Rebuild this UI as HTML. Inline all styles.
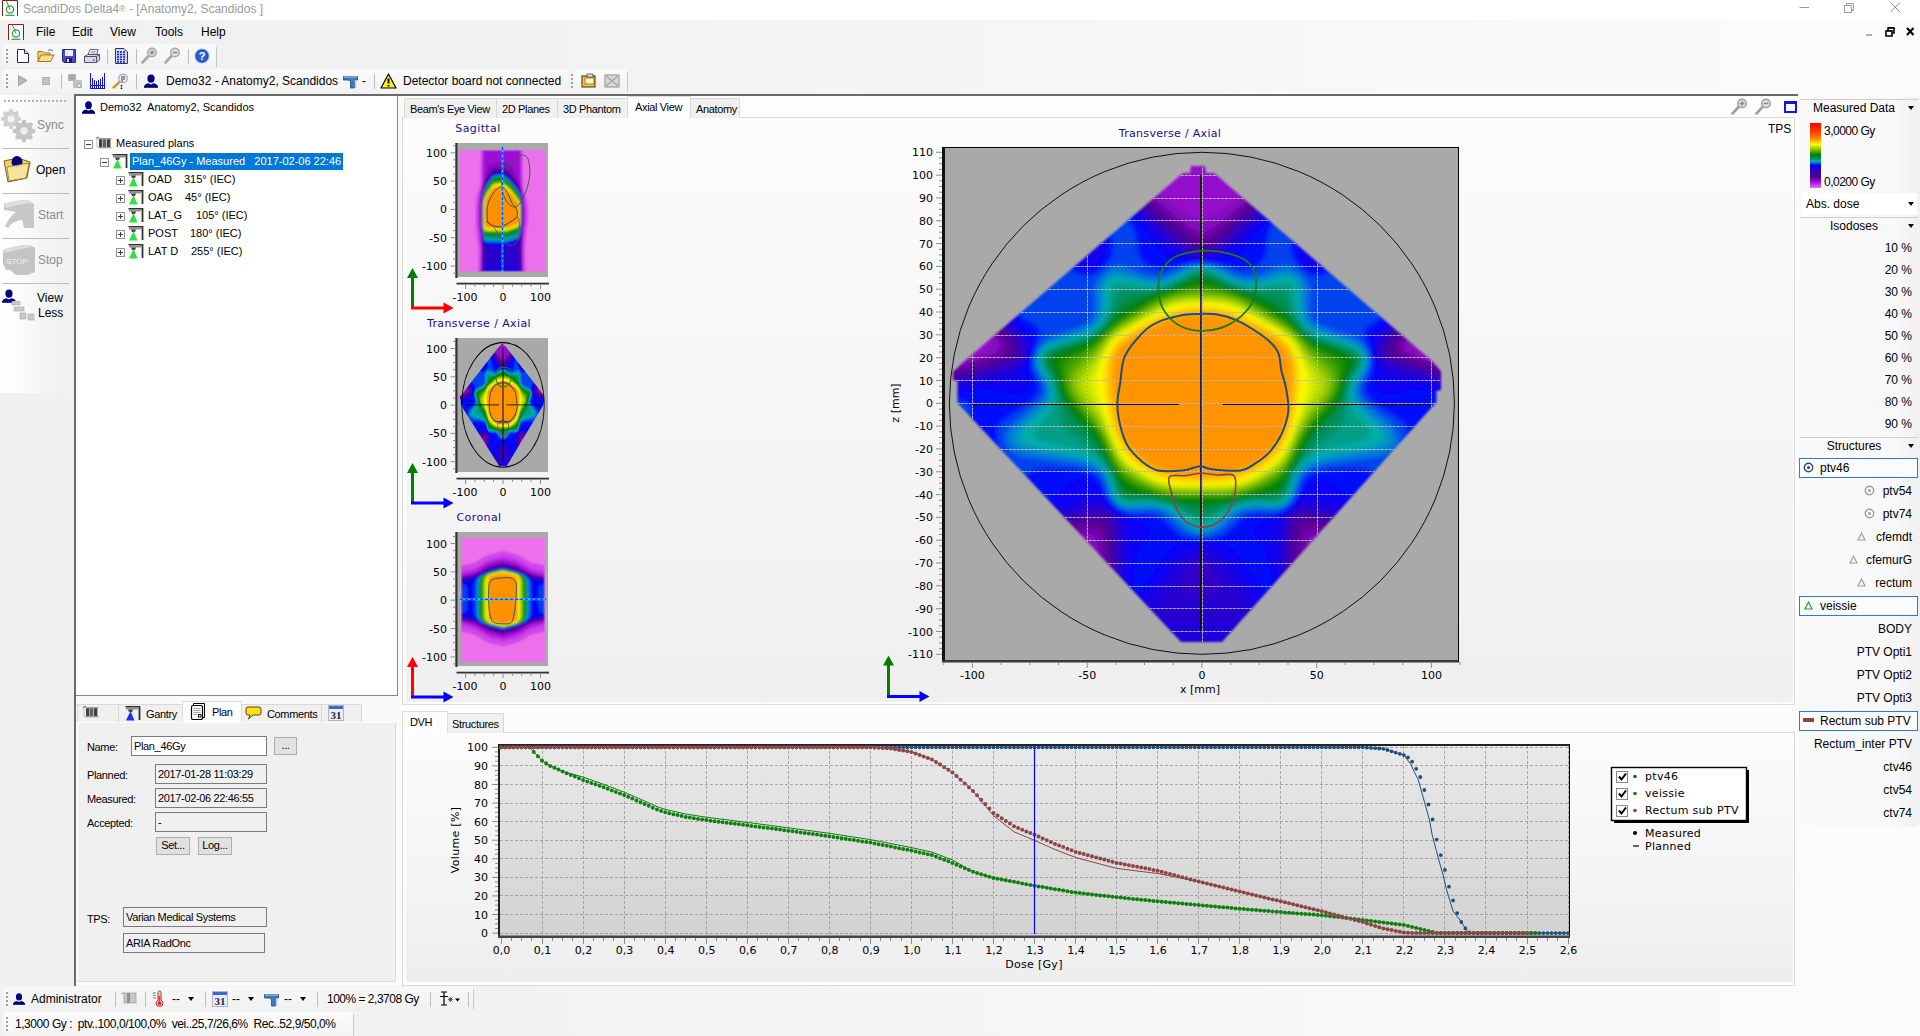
<!DOCTYPE html><html><head><meta charset="utf-8"><title>ScandiDos Delta4</title><style>
*{box-sizing:border-box;margin:0;padding:0}
html,body{width:1920px;height:1036px;overflow:hidden;background:#f0f0f0}
body{position:relative;font-family:"Liberation Sans",sans-serif;font-size:12px;color:#000}
.a{position:absolute}
.t{position:absolute;white-space:nowrap;line-height:14px}
.ui{font-family:"Liberation Sans",sans-serif;font-size:12px}
.ms{font-family:"Liberation Sans",sans-serif;font-size:11px}
.nr{letter-spacing:-0.35px}
.vd{font-family:"DejaVu Sans","Liberation Sans",sans-serif}
.tab{position:absolute;border:1px solid #d9d9d9;background:#f0f0f0;border-bottom:none}
.tab.sel{background:#fff;border-color:#dcdcdc}
.inp{position:absolute;border:1px solid #7a7a7a;background:#fff;font-size:11px;letter-spacing:-0.35px;line-height:14px;padding:2px 0 0 2px;white-space:nowrap}
.inp.ro{background:#f0f0f0}
.btn{position:absolute;border:1px solid #adadad;background:#e1e1e1;font-size:11px;letter-spacing:-0.35px;text-align:center;line-height:14px}
.sep{position:absolute;width:1px;background:#bdbdbd}
.rp{position:absolute;right:0;white-space:nowrap;font-size:12px;line-height:14px;text-align:right}
</style></head><body>
<div class="a" style="left:0;top:0;width:1920px;height:20px;background:#fff"></div>
<svg class="a" style="left:2px;top:0px" width="16" height="16" viewBox="0 0 16 16"><path d="M0.5 16V0.5H15.5V16" fill="#fff" stroke="#8b1a1a" stroke-width="1"/><circle cx="8" cy="9.5" r="3.6" fill="none" stroke="#2e9e3e" stroke-width="1.3"/><path d="M4.5 1L8 9.5" stroke="#2e9e3e" stroke-width="1"/><path d="M3.5 15.3H12.5" stroke="#2e9e3e" stroke-width="1.2"/></svg>
<div class="t" style="left:23px;top:2px;color:#9a9a9a;font-size:12px">ScandiDos Delta4<span style="font-size:9px;position:relative;top:-1px">®</span> - [Anatomy2, Scandidos ]</div>
<svg class="a" style="left:1790px;top:0" width="130" height="20" viewBox="0 0 130 20"><path d="M9.5 7.5H19" stroke="#9a9a9a" stroke-width="1" fill="none"/><path d="M54.5 5.5H61.5V12.5H54.5Z M56.5 5.5V3.5H63.5V10.5H61.5" stroke="#9a9a9a" stroke-width="1" fill="none"/><path d="M100.5 2.5L110 12M110 2.5L100.5 12" stroke="#8a8a8a" stroke-width="1" fill="none"/></svg>
<div class="a" style="left:0;top:20px;width:1920px;height:76px;background:linear-gradient(90deg,#f0f0f0,#f1f1f1 20%,#fcfcfc)"></div>
<svg class="a" style="left:8px;top:24px" width="16" height="16" viewBox="0 0 16 16"><path d="M0.5 16V0.5H15.5V16" fill="#fff" stroke="#8b1a1a" stroke-width="1"/><circle cx="8" cy="9.5" r="3.6" fill="none" stroke="#2e9e3e" stroke-width="1.3"/><path d="M4.5 1L8 9.5" stroke="#2e9e3e" stroke-width="1"/><path d="M3.5 15.3H12.5" stroke="#2e9e3e" stroke-width="1.2"/></svg>
<div class="t ui" style="left:36px;top:25px">File</div>
<div class="t ui" style="left:72px;top:25px">Edit</div>
<div class="t ui" style="left:110px;top:25px">View</div>
<div class="t ui" style="left:155px;top:25px">Tools</div>
<div class="t ui" style="left:201px;top:25px">Help</div>
<svg class="a" style="left:1860px;top:22px" width="60" height="18" viewBox="0 0 60 18"><path d="M6 13H12" stroke="#b0b0b0" stroke-width="2"/><path d="M26 9H32V14H26Z" stroke="#000" stroke-width="1.6" fill="none"/><path d="M28 8V6H34V11H32.5" stroke="#000" stroke-width="1.6" fill="none"/><path d="M26 8.6H32M28 5.6H34" stroke="#000" stroke-width="1.2"/><path d="M47 6L53.5 13M53.5 6L47 13" stroke="#000" stroke-width="2"/></svg>
<div class="a" style="left:3px;top:44px;width:213px;height:24px;background:linear-gradient(#fafafa,#f2f2f2);border-radius:3px"></div>
<div class="a" style="left:216px;top:47px;width:1px;height:20px;background:#c8c8c8"></div>
<div class="a" style="left:6px;top:49px;width:2px;height:2px;background:#a0a0a0"></div><div class="a" style="left:6px;top:53px;width:2px;height:2px;background:#a0a0a0"></div><div class="a" style="left:6px;top:57px;width:2px;height:2px;background:#a0a0a0"></div><div class="a" style="left:6px;top:61px;width:2px;height:2px;background:#a0a0a0"></div>
<svg class="a" style="left:16px;top:48px" width="14" height="16" viewBox="0 0 14 16"><path d="M1.5 1.5H8.5L12.5 5.5V14.5H1.5Z" fill="#fff" stroke="#1c2a6a" stroke-width="1"/><path d="M8.5 1.5V5.5H12.5" fill="#dfe6f5" stroke="#1c2a6a" stroke-width="1"/></svg><svg class="a" style="left:37px;top:48px" width="18" height="15" viewBox="0 0 18 15"><path d="M1 13.5V3.5H6L7.5 5H13V7" fill="#f6d27a" stroke="#a07818" stroke-width="1"/><path d="M1 13.5L4 7H17L13.5 13.5Z" fill="#fbe08c" stroke="#a07818" stroke-width="1"/><path d="M11 2.5Q14 0.5 16 3" fill="none" stroke="#4a6ab0" stroke-width="1"/></svg><svg class="a" style="left:62px;top:49px" width="14" height="14" viewBox="0 0 14 14"><path d="M0.5 0.5H13.5V13.5H2L0.5 12Z" fill="#4a48c8" stroke="#2a2890" stroke-width="1"/><rect x="3" y="1" width="8" height="6" fill="#e8ecf8"/><rect x="4" y="9" width="6" height="4.5" fill="#1a1a50"/><rect x="5" y="10" width="2" height="3" fill="#e0e0f0"/></svg><svg class="a" style="left:84px;top:49px" width="16" height="14" viewBox="0 0 16 14"><path d="M4 6L6 0.5H14L12.5 6" fill="#f4f4f8" stroke="#606080" stroke-width="1"/><path d="M0.5 7.5L3.5 5.5H15.5V11L12.5 13.5H0.5Z" fill="#d8d8e4" stroke="#505070" stroke-width="1"/><path d="M0.5 7.5H12.5V13.5M12.5 7.5L15.5 5.5" fill="none" stroke="#505070" stroke-width="1"/><path d="M7 2.5H12M6.5 4H11.5" stroke="#9090a8" stroke-width="0.8"/><rect x="9" y="10.5" width="1.5" height="1.5" fill="#d02020"/></svg><div class="sep" style="left:107px;top:49px;height:15px"></div><svg class="a" style="left:115px;top:48px" width="13" height="16" viewBox="0 0 13 16"><path d="M0.5 0.5H9L12.5 4V15.5H0.5Z" fill="#cfd8f4" stroke="#303070" stroke-width="1"/><g stroke="#1818c8" stroke-width="1.4"><path d="M2 4H11M2 6.5H11M2 9H11M2 11.5H11M2 14H11" stroke-dasharray="2 1"/></g></svg><div class="sep" style="left:136px;top:49px;height:15px"></div><svg class="a" style="left:141px;top:47px" width="17" height="17" viewBox="0 0 17 17"><path d="M1.5 15.5L8 8.5" stroke="#a8a8a8" stroke-width="2.6" stroke-linecap="round"/><circle cx="11" cy="5.5" r="4.3" fill="#dcdcdc" stroke="#a8a8a8" stroke-width="1.4"/><path d="M8.7 5.5H13.3M11 3.2V7.8" stroke="#8a8a8a" stroke-width="1.4"/></svg><svg class="a" style="left:164px;top:47px" width="17" height="17" viewBox="0 0 17 17"><path d="M1.5 15.5L8 8.5" stroke="#a8a8a8" stroke-width="2.6" stroke-linecap="round"/><circle cx="11" cy="5.5" r="4.3" fill="#dcdcdc" stroke="#a8a8a8" stroke-width="1.4"/><path d="M8.7 5.5H13.3" stroke="#8a8a8a" stroke-width="1.4"/></svg><div class="sep" style="left:188px;top:49px;height:15px"></div><svg class="a" style="left:194px;top:48px" width="16" height="16" viewBox="0 0 16 16"><circle cx="8" cy="8" r="7" fill="#2a5fd0" stroke="#9db8ec" stroke-width="1.2"/><circle cx="8" cy="8" r="6" fill="none" stroke="#1a3fa0" stroke-width="0.8"/><text x="8" y="12" font-family="Liberation Sans" font-weight="bold" font-size="11" text-anchor="middle" fill="#fff">?</text></svg>
<div class="a" style="left:3px;top:69px;width:565px;height:24px;background:linear-gradient(#fafafa,#f2f2f2);border-radius:3px"></div>
<div class="a" style="left:574px;top:69px;width:53px;height:24px;background:linear-gradient(#fafafa,#f2f2f2);border-radius:3px"></div>
<div class="a" style="left:6px;top:74px;width:2px;height:2px;background:#a0a0a0"></div><div class="a" style="left:6px;top:78px;width:2px;height:2px;background:#a0a0a0"></div><div class="a" style="left:6px;top:82px;width:2px;height:2px;background:#a0a0a0"></div><div class="a" style="left:6px;top:86px;width:2px;height:2px;background:#a0a0a0"></div>
<div class="a" style="left:571px;top:74px;width:2px;height:2px;background:#a0a0a0"></div><div class="a" style="left:571px;top:78px;width:2px;height:2px;background:#a0a0a0"></div><div class="a" style="left:571px;top:82px;width:2px;height:2px;background:#a0a0a0"></div><div class="a" style="left:571px;top:86px;width:2px;height:2px;background:#a0a0a0"></div>
<div class="a" style="left:627px;top:72px;width:1px;height:20px;background:#c8c8c8"></div>
<svg class="a" style="left:17px;top:74px" width="12" height="13" viewBox="0 0 12 13"><path d="M1.5 1.5L10 6.5L1.5 11.5Z" fill="#b8b8b8" stroke="#a0a0a0" stroke-width="1"/></svg><div class="a" style="left:42px;top:77px;width:8px;height:8px;background:#c4c4c4;border:1px solid #b0b0b0"></div><div class="sep" style="left:61px;top:74px;height:15px"></div><svg class="a" style="left:67px;top:73px" width="17" height="17" viewBox="0 0 17 17"><rect x="1" y="1" width="8" height="7" fill="#b4b4b4"/><rect x="6" y="7" width="9" height="8" fill="#c4c4c4"/><circle cx="12" cy="12.5" r="2" fill="#e8e8e8" stroke="#a0a0a0"/><path d="M2 3H8M2 5H8" stroke="#9a9a9a"/></svg><svg class="a" style="left:90px;top:73px" width="16" height="17" viewBox="0 0 16 17" shape-rendering="crispEdges"><path d="M0 12.5H15M0 15.5H15" stroke="#1414e0" stroke-width="1"/><g stroke="#1414e0" stroke-width="1.3"><path d="M0.7 0V16M14.3 0V16M2.8 5V16M4.8 7V16M6.8 8V16M8.8 7V16M10.6 6V16M12.5 4V16"/></g></svg><svg class="a" style="left:112px;top:73px" width="17" height="17" viewBox="0 0 17 17"><path d="M1.5 14.5L8 8.5" stroke="#e0902a" stroke-width="2.4" stroke-linecap="round"/><circle cx="11" cy="5.5" r="4.3" fill="#eef4fc" stroke="#a8b0c0" stroke-width="1.4"/><path d="M9.5 4H10.5M11.5 4H12.5M9.5 6H10.5M11.5 6H12.5M9.5 8H10.5M9.5 12V16" stroke="#000" stroke-width="1.4" stroke-dasharray="1.5 1"/></svg><div class="sep" style="left:136px;top:74px;height:15px"></div><svg class="a" style="left:144px;top:74px" width="14" height="14" viewBox="0 0 14 14"><ellipse cx="7" cy="4.6" rx="3.6" ry="4.2" fill="#00007a"/><path d="M0 13.5Q0 10 4.5 9.2L7 10.5L9.5 9.2Q14 10 14 13.5Z" fill="#00007a"/><rect x="0" y="12" width="14" height="1.6" fill="#00007a"/></svg><div class="t ui" style="left:166px;top:74px">Demo32 - Anatomy2, Scandidos</div><svg class="a" style="left:343px;top:74px" width="16" height="15" viewBox="0 0 16 15"><path d="M0.5 2.5H14.5V6H11.5V14H7.5V8Q7.5 6 5 6H0.5Z" fill="#3a7ec0" stroke="#1a4a88" stroke-width="0.8"/><path d="M1 3H14" stroke="#a8d0f0" stroke-width="1"/><path d="M12.5 6V14" stroke="#c8c8c8" stroke-width="1.6"/></svg><div class="t ui" style="left:362px;top:74px">-</div><div class="sep" style="left:374px;top:74px;height:15px"></div><svg class="a" style="left:380px;top:73px" width="17" height="16" viewBox="0 0 17 16"><path d="M8.5 1L16 15H1Z" fill="#ffec20" stroke="#000" stroke-width="1.2" stroke-linejoin="round"/><path d="M8.5 5.5V10.5M8.5 12V13.6" stroke="#000" stroke-width="1.8"/></svg><div class="t ui" style="left:403px;top:74px">Detector board not connected</div><svg class="a" style="left:581px;top:73px" width="16" height="16" viewBox="0 0 16 16"><rect x="1" y="3" width="13" height="11" fill="#f0c050" stroke="#6a4a10" stroke-width="1.2"/><rect x="4" y="5" width="9" height="6" fill="#fff4c8" stroke="#8a6a20" stroke-width="0.8"/><path d="M6 1H12V4H6Z" fill="#e8e8e8" stroke="#404040" stroke-width="0.8"/></svg><svg class="a" style="left:604px;top:73px" width="16" height="16" viewBox="0 0 16 16"><rect x="1" y="2" width="14" height="12" fill="#d8d8d8" stroke="#a0a0a0" stroke-width="1.2"/><path d="M2 3L14 13M14 3L2 13" stroke="#a8a8a8" stroke-width="1.6"/></svg>
<div class="a" style="left:0;top:95px;width:73px;height:298px;background:linear-gradient(90deg,#ffffff,#f5f5f5 60%,#f0f0f0);border-radius:0 0 4px 4px"></div>
<div class="a" style="left:74px;top:94px;width:1724px;height:2px;background:#696969"></div>
<div class="a" style="left:74px;top:94px;width:2px;height:892px;background:#696969"></div>
<div class="a" style="left:76px;top:96px;width:1722px;height:890px;background:#fafafa"></div>
<div class="a" style="left:4px;top:100px;width:63px;height:2px;background:repeating-linear-gradient(90deg,#b4b4b4 0 2px,transparent 2px 4px)"></div>
<div class="a" style="left:2px;top:148px;width:67px;height:1px;background:#bcbcbc"></div>
<div class="a" style="left:2px;top:193px;width:67px;height:1px;background:#bcbcbc"></div>
<div class="a" style="left:2px;top:238px;width:67px;height:1px;background:#bcbcbc"></div>
<div class="a" style="left:2px;top:283px;width:67px;height:1px;background:#bcbcbc"></div>
<svg class="a" style="left:1px;top:107px" width="35" height="36" viewBox="0 0 35 36"><rect x="8.2" y="2.0" width="3.5" height="4.0" fill="#d0d0d0" transform="rotate(0 10 12)"/><rect x="8.2" y="2.0" width="3.5" height="4.0" fill="#d0d0d0" transform="rotate(45 10 12)"/><rect x="8.2" y="2.0" width="3.5" height="4.0" fill="#d0d0d0" transform="rotate(90 10 12)"/><rect x="8.2" y="2.0" width="3.5" height="4.0" fill="#d0d0d0" transform="rotate(135 10 12)"/><rect x="8.2" y="2.0" width="3.5" height="4.0" fill="#d0d0d0" transform="rotate(180 10 12)"/><rect x="8.2" y="2.0" width="3.5" height="4.0" fill="#d0d0d0" transform="rotate(225 10 12)"/><rect x="8.2" y="2.0" width="3.5" height="4.0" fill="#d0d0d0" transform="rotate(270 10 12)"/><rect x="8.2" y="2.0" width="3.5" height="4.0" fill="#d0d0d0" transform="rotate(315 10 12)"/><circle cx="10" cy="12" r="8" fill="#d0d0d0"/><circle cx="10" cy="12" r="3.4" fill="#f4f4f4"/><rect x="21.0" y="12.8" width="4.0" height="4.5" fill="#c4c4c4" transform="rotate(0 23 24)"/><rect x="21.0" y="12.8" width="4.0" height="4.5" fill="#c4c4c4" transform="rotate(45 23 24)"/><rect x="21.0" y="12.8" width="4.0" height="4.5" fill="#c4c4c4" transform="rotate(90 23 24)"/><rect x="21.0" y="12.8" width="4.0" height="4.5" fill="#c4c4c4" transform="rotate(135 23 24)"/><rect x="21.0" y="12.8" width="4.0" height="4.5" fill="#c4c4c4" transform="rotate(180 23 24)"/><rect x="21.0" y="12.8" width="4.0" height="4.5" fill="#c4c4c4" transform="rotate(225 23 24)"/><rect x="21.0" y="12.8" width="4.0" height="4.5" fill="#c4c4c4" transform="rotate(270 23 24)"/><rect x="21.0" y="12.8" width="4.0" height="4.5" fill="#c4c4c4" transform="rotate(315 23 24)"/><circle cx="23" cy="24" r="9" fill="#c4c4c4"/><circle cx="23" cy="24" r="3.8" fill="#ececec"/></svg>
<div class="t ui" style="left:37px;top:118px;color:#8a8a8a">Sync</div>
<svg class="a" style="left:2px;top:154px" width="30" height="30" viewBox="0 0 30 30"><path d="M2 7L16 4L28 8L25 24L6 28Z" fill="#f0d060" stroke="#7a6420" stroke-width="1"/><ellipse cx="15" cy="8" rx="5.5" ry="6" fill="#00007a"/><path d="M5 13L27 9L24 24L7 27Z" fill="#f6e7a0" stroke="#8a7428" stroke-width="0.8" opacity="0.93"/></svg>
<div class="t ui" style="left:36px;top:163px">Open</div>
<svg class="a" style="left:2px;top:198px" width="34" height="34" viewBox="0 0 34 34"><path d="M2 6Q14 2 26 2L32 6V30H22L20 22Q12 22 6 30L3 28Q8 18 14 14L2 12Z" fill="#c8c8c8"/><path d="M2 6Q14 2 26 2L30 5Q16 6 4 10Z" fill="#dedede"/></svg>
<div class="t ui" style="left:38px;top:208px;color:#8a8a8a">Start</div>
<svg class="a" style="left:2px;top:244px" width="34" height="32" viewBox="0 0 34 32"><path d="M1 6Q14 1 28 1L33 4V28L26 31H14L8 26H4L1 20Z" fill="#c4c4c4"/><path d="M1 6Q14 1 28 1L30 3Q16 5 3 9Z" fill="#dcdcdc"/><text x="15" y="20" font-size="8" text-anchor="middle" fill="#f0f0f0" font-family="Liberation Sans">STOP</text></svg>
<div class="t ui" style="left:38px;top:253px;color:#8a8a8a">Stop</div>
<svg class="a" style="left:2px;top:289px" width="14" height="14" viewBox="0 0 14 14"><ellipse cx="7" cy="4.6" rx="3.6" ry="4.2" fill="#00007a"/><path d="M0 13.5Q0 10 4.5 9.2L7 10.5L9.5 9.2Q14 10 14 13.5Z" fill="#00007a"/><rect x="0" y="12" width="14" height="1.6" fill="#00007a"/></svg>
<svg class="a" style="left:10px;top:301px" width="26" height="20" viewBox="0 0 26 20"><g fill="#c8c8c8" stroke="#a8a8a8" stroke-width="0.6"><rect x="2" y="0" width="8" height="4"/><rect x="4" y="6" width="10" height="4"/><rect x="10" y="12" width="6" height="6"/><rect x="18" y="13" width="6" height="6"/></g></svg>
<div class="t ui" style="left:37px;top:291px">View</div>
<div class="t ui" style="left:38px;top:306px">Less</div>
<div class="a" style="left:76px;top:96px;width:322px;height:600px;background:#fff;border-right:1px solid #828790;border-bottom:1px solid #828790"></div>
<svg class="a" style="left:82px;top:101px" width="13" height="13" viewBox="0 0 14 14"><ellipse cx="7" cy="4.6" rx="3.6" ry="4.2" fill="#00007a"/><path d="M0 13.5Q0 10 4.5 9.2L7 10.5L9.5 9.2Q14 10 14 13.5Z" fill="#00007a"/><rect x="0" y="12" width="14" height="1.6" fill="#00007a"/></svg>
<div class="t ms" style="left:100px;top:100px">Demo32&nbsp; Anatomy2, Scandidos</div>
<svg class="a" style="left:84px;top:140px" width="9" height="9" viewBox="0 0 9 9"><rect x="0.5" y="0.5" width="8" height="8" fill="#fff" stroke="#919191"/><path d="M2 4.5H7" stroke="#2a3a8a" stroke-width="1"/></svg>
<svg class="a" style="left:96px;top:137px" width="17" height="13" viewBox="0 0 17 13"><path d="M1 2V11" stroke="#c8c8c8" stroke-width="1.2"/><path d="M0 1.5L3 0" stroke="#c02020" stroke-width="1"/><rect x="3" y="1" width="3.4" height="10" fill="#404040"/><rect x="7" y="1" width="3.4" height="10" fill="#606060"/><rect x="11" y="1" width="3.4" height="10" fill="#404040"/><rect x="2.5" y="1" width="13" height="1.4" fill="#a0a0a0"/><rect x="2.5" y="10" width="13" height="1.4" fill="#a0a0a0"/></svg>
<div class="t ms" style="left:116px;top:136px">Measured plans</div>
<svg class="a" style="left:100px;top:158px" width="9" height="9" viewBox="0 0 9 9"><rect x="0.5" y="0.5" width="8" height="8" fill="#fff" stroke="#919191"/><path d="M2 4.5H7" stroke="#2a3a8a" stroke-width="1"/></svg>
<svg class="a" style="left:112px;top:154px" width="16" height="15" viewBox="0 0 16 15"><path d="M0.5 0.5H14.5V14" fill="none" stroke="#303030" stroke-width="1.8"/><rect x="1" y="1.5" width="12" height="2" fill="#909090"/><path d="M3 3.5H8L7 6H4Z" fill="#404040"/><path d="M5.5 5L9.5 14.5H1Z" fill="#30e040"/></svg>
<div class="a" style="left:130px;top:153px;width:213px;height:17px;background:#0078d7"></div>
<div class="t ms" style="left:132px;top:154px;color:#fff">Plan_46Gy - Measured&nbsp;&nbsp; 2017-02-06 22:46</div>
<svg class="a" style="left:116px;top:176px" width="9" height="9" viewBox="0 0 9 9"><rect x="0.5" y="0.5" width="8" height="8" fill="#fff" stroke="#919191"/><path d="M2 4.5H7" stroke="#2a3a8a" stroke-width="1"/><path d="M4.5 2V7" stroke="#2a3a8a" stroke-width="1"/></svg>
<svg class="a" style="left:128px;top:172px" width="16" height="15" viewBox="0 0 16 15"><path d="M0.5 0.5H14.5V14" fill="none" stroke="#303030" stroke-width="1.8"/><rect x="1" y="1.5" width="12" height="2" fill="#909090"/><path d="M3 3.5H8L7 6H4Z" fill="#404040"/><path d="M5.5 5L9.5 14.5H1Z" fill="#30e040"/></svg>
<div class="t ms" style="left:148px;top:172px">OAD</div><div class="t ms" style="left:184px;top:172px">315° (IEC)</div>
<svg class="a" style="left:116px;top:194px" width="9" height="9" viewBox="0 0 9 9"><rect x="0.5" y="0.5" width="8" height="8" fill="#fff" stroke="#919191"/><path d="M2 4.5H7" stroke="#2a3a8a" stroke-width="1"/><path d="M4.5 2V7" stroke="#2a3a8a" stroke-width="1"/></svg>
<svg class="a" style="left:128px;top:190px" width="16" height="15" viewBox="0 0 16 15"><path d="M0.5 0.5H14.5V14" fill="none" stroke="#303030" stroke-width="1.8"/><rect x="1" y="1.5" width="12" height="2" fill="#909090"/><path d="M3 3.5H8L7 6H4Z" fill="#404040"/><path d="M5.5 5L9.5 14.5H1Z" fill="#30e040"/></svg>
<div class="t ms" style="left:148px;top:190px">OAG</div><div class="t ms" style="left:185px;top:190px">45° (IEC)</div>
<svg class="a" style="left:116px;top:212px" width="9" height="9" viewBox="0 0 9 9"><rect x="0.5" y="0.5" width="8" height="8" fill="#fff" stroke="#919191"/><path d="M2 4.5H7" stroke="#2a3a8a" stroke-width="1"/><path d="M4.5 2V7" stroke="#2a3a8a" stroke-width="1"/></svg>
<svg class="a" style="left:128px;top:208px" width="16" height="15" viewBox="0 0 16 15"><path d="M0.5 0.5H14.5V14" fill="none" stroke="#303030" stroke-width="1.8"/><rect x="1" y="1.5" width="12" height="2" fill="#909090"/><path d="M3 3.5H8L7 6H4Z" fill="#404040"/><path d="M5.5 5L9.5 14.5H1Z" fill="#30e040"/></svg>
<div class="t ms" style="left:148px;top:208px">LAT_G</div><div class="t ms" style="left:196px;top:208px">105° (IEC)</div>
<svg class="a" style="left:116px;top:230px" width="9" height="9" viewBox="0 0 9 9"><rect x="0.5" y="0.5" width="8" height="8" fill="#fff" stroke="#919191"/><path d="M2 4.5H7" stroke="#2a3a8a" stroke-width="1"/><path d="M4.5 2V7" stroke="#2a3a8a" stroke-width="1"/></svg>
<svg class="a" style="left:128px;top:226px" width="16" height="15" viewBox="0 0 16 15"><path d="M0.5 0.5H14.5V14" fill="none" stroke="#303030" stroke-width="1.8"/><rect x="1" y="1.5" width="12" height="2" fill="#909090"/><path d="M3 3.5H8L7 6H4Z" fill="#404040"/><path d="M5.5 5L9.5 14.5H1Z" fill="#30e040"/></svg>
<div class="t ms" style="left:148px;top:226px">POST</div><div class="t ms" style="left:190px;top:226px">180° (IEC)</div>
<svg class="a" style="left:116px;top:248px" width="9" height="9" viewBox="0 0 9 9"><rect x="0.5" y="0.5" width="8" height="8" fill="#fff" stroke="#919191"/><path d="M2 4.5H7" stroke="#2a3a8a" stroke-width="1"/><path d="M4.5 2V7" stroke="#2a3a8a" stroke-width="1"/></svg>
<svg class="a" style="left:128px;top:244px" width="16" height="15" viewBox="0 0 16 15"><path d="M0.5 0.5H14.5V14" fill="none" stroke="#303030" stroke-width="1.8"/><rect x="1" y="1.5" width="12" height="2" fill="#909090"/><path d="M3 3.5H8L7 6H4Z" fill="#404040"/><path d="M5.5 5L9.5 14.5H1Z" fill="#30e040"/></svg>
<div class="t ms" style="left:148px;top:244px">LAT D</div><div class="t ms" style="left:191px;top:244px">255° (IEC)</div>
<div class="a" style="left:77px;top:722px;width:319px;height:260px;background:#f0f0f0;border:1px solid #fcfcfc;border-right-color:#dcdcdc;border-bottom-color:#dcdcdc"></div>
<div class="tab" style="left:77px;top:704px;width:42px;height:18px"></div>
<div class="tab" style="left:118px;top:704px;width:65px;height:18px"></div>
<div class="tab" style="left:241px;top:704px;width:81px;height:18px"></div>
<div class="tab" style="left:321px;top:704px;width:41px;height:18px"></div>
<div class="tab sel" style="left:182px;top:701px;width:60px;height:22px"></div>
<svg class="a" style="left:83px;top:706px" width="17" height="13" viewBox="0 0 17 13"><path d="M1 2V11" stroke="#c8c8c8" stroke-width="1.2"/><path d="M0 1.5L3 0" stroke="#c02020" stroke-width="1"/><rect x="3" y="1" width="3.4" height="10" fill="#404040"/><rect x="7" y="1" width="3.4" height="10" fill="#606060"/><rect x="11" y="1" width="3.4" height="10" fill="#404040"/><rect x="2.5" y="1" width="13" height="1.4" fill="#a0a0a0"/><rect x="2.5" y="10" width="13" height="1.4" fill="#a0a0a0"/></svg>
<svg class="a" style="left:125px;top:706px" width="16" height="15" viewBox="0 0 16 15"><path d="M0.5 0.5H14.5V14" fill="none" stroke="#303030" stroke-width="1.8"/><rect x="1" y="1.5" width="12" height="2" fill="#909090"/><path d="M3 3.5H8L7 6H4Z" fill="#404040"/><path d="M5.5 5L9.5 14.5H1Z" fill="#2030e8"/></svg>
<div class="t ms nr" style="left:146px;top:707px">Gantry</div>
<svg class="a" style="left:190px;top:703px" width="16" height="17" viewBox="0 0 16 17"><path d="M3.5 2.5V0.5H14.5V14.5H12.5" fill="#fff" stroke="#000" stroke-width="1"/><rect x="1.5" y="2.5" width="11" height="14" rx="1.5" fill="#fff" stroke="#000" stroke-width="1.2"/><path d="M3.5 5.5H10.5M3.5 7.5H10.5M3.5 9.5H10.5M3.5 11.5H7" stroke="#909090" stroke-width="0.8"/><rect x="8.5" y="11.5" width="2.5" height="2.5" fill="#fff" stroke="#000" stroke-width="0.9"/></svg>
<div class="t ms nr" style="left:212px;top:705px">Plan</div>
<svg class="a" style="left:245px;top:706px" width="17" height="14" viewBox="0 0 17 14"><path d="M3 1H14Q16 1 16 3V7Q16 9 14 9H8L3.5 13L5 9H3Q1 9 1 7V3Q1 1 3 1Z" fill="#f8e020" stroke="#5a4a00" stroke-width="1"/></svg>
<div class="t ms nr" style="left:267px;top:707px">Comments</div>
<svg class="a" style="left:328px;top:705px" width="16" height="16" viewBox="0 0 16 16"><rect x="0.5" y="0.5" width="15" height="15" fill="#e8ecf4" stroke="#7080a0" stroke-width="1" stroke-dasharray="1 1"/><rect x="1" y="1" width="14" height="3" fill="#3a6ad0"/><text x="8" y="14" font-family="Liberation Serif" font-weight="bold" font-size="11" text-anchor="middle" fill="#202840">31</text></svg>
<div class="t ms nr" style="left:87px;top:740px">Name:</div>
<div class="inp" style="left:131px;top:736px;width:136px;height:20px">Plan_46Gy</div>
<div class="btn" style="left:274px;top:737px;width:23px;height:18px">...</div>
<div class="t ms nr" style="left:87px;top:768px">Planned:</div>
<div class="inp ro" style="left:155px;top:764px;width:112px;height:20px">2017-01-28 11:03:29</div>
<div class="t ms nr" style="left:87px;top:792px">Measured:</div>
<div class="inp ro" style="left:155px;top:788px;width:112px;height:20px">2017-02-06 22:46:55</div>
<div class="t ms nr" style="left:87px;top:816px">Accepted:</div>
<div class="inp ro" style="left:155px;top:812px;width:112px;height:20px">-</div>
<div class="btn" style="left:156px;top:837px;width:34px;height:18px">Set...</div>
<div class="btn" style="left:198px;top:837px;width:34px;height:18px">Log...</div>
<div class="t ms nr" style="left:87px;top:912px">TPS:</div>
<div class="inp ro" style="left:123px;top:907px;width:144px;height:20px">Varian Medical Systems</div>
<div class="inp ro" style="left:123px;top:933px;width:142px;height:20px">ARIA RadOnc</div>
<div class="a" style="left:402px;top:96px;width:1396px;height:610px;background:#fdfdfd"></div>
<div class="a" style="left:402px;top:117px;width:1393px;height:588px;border:1px solid #dcdcdc;background:#fdfdfd"></div>
<div class="a" style="left:406px;top:121px;width:1387px;height:581px;background:linear-gradient(#fcfcfc,#f6f6f6 50%,#efefef)"></div>
<div class="tab" style="left:404px;top:98px;width:93px;height:20px"></div><div class="t ms nr" style="left:410px;top:102px">Beam's Eye View</div>
<div class="tab" style="left:496px;top:98px;width:62px;height:20px"></div><div class="t ms nr" style="left:502px;top:102px">2D Planes</div>
<div class="tab" style="left:557px;top:98px;width:72px;height:20px"></div><div class="t ms nr" style="left:563px;top:102px">3D Phantom</div>
<div class="tab" style="left:690px;top:98px;width:50px;height:20px"></div><div class="t ms nr" style="left:696px;top:102px">Anatomy</div>
<div class="tab sel" style="left:627px;top:96px;width:64px;height:22px;background:#fdfdfd"></div><div class="t ms nr" style="left:635px;top:100px">Axial View</div>
<svg class="a" style="left:1731px;top:98px" width="17" height="17" viewBox="0 0 17 17"><path d="M1.5 15.5L8 8.5" stroke="#a0a0a0" stroke-width="2.6" stroke-linecap="round"/><circle cx="11" cy="5.5" r="4.3" fill="#dcdcdc" stroke="#a0a0a0" stroke-width="1.4"/><path d="M8.7 5.5H13.3M11 3.2V7.8" stroke="#8a8a8a" stroke-width="1.4"/></svg>
<svg class="a" style="left:1755px;top:98px" width="17" height="17" viewBox="0 0 17 17"><path d="M1.5 15.5L8 8.5" stroke="#a0a0a0" stroke-width="2.6" stroke-linecap="round"/><circle cx="11" cy="5.5" r="4.3" fill="#dcdcdc" stroke="#a0a0a0" stroke-width="1.4"/><path d="M8.7 5.5H13.3" stroke="#8a8a8a" stroke-width="1.4"/></svg>
<div class="a" style="left:1784px;top:101px;width:13px;height:12px;border:2px solid #1414e8;border-top-width:3px;background:#fff"></div>
<div class="t ui" style="left:1768px;top:122px">TPS</div>
<svg class="a" style="left:870px;top:110px" width="620" height="600" viewBox="870 110 620 600" font-family="DejaVu Sans, Liberation Sans, sans-serif" font-size="11"><defs><clipPath id="kite"><polygon points="246,18 260,18 261,25 269,25 487,213 496,223 496,242 491.5,243 491.5,254 277,494 236,494 12.5,255 12.5,233 8,232 8,224 15,217 238,25 245,25"/></clipPath>
<filter id="bl" x="-5%" y="-5%" width="110%" height="110%"><feGaussianBlur stdDeviation="2.2"/></filter>
<filter id="bl2" x="-5%" y="-5%" width="110%" height="110%"><feGaussianBlur stdDeviation="0.8"/></filter>
<g id="dosemap"><rect x="0" y="0" width="513" height="512" fill="#a9a9a9"/>
<g filter="url(#bl2)"><g clip-path="url(#kite)"><g filter="url(#bl)"><rect x="-20" y="-20" width="560" height="560" fill="#8a0cc0"/><path fill="#940ccd" d="M0,0 148.7,0 153,1.6 156,2.1 171,1.5 177,1.9 198,6.7 210,8.3 225,9.1 258,9.3 288,9.1 303,8.4 315,6.8 336,2 342,1.5 357,2.2 360,1.7 365.2,0 513,0 513,149.6 504.5,162 497.6,174 494.1,183 493.3,189 493.8,192 495,194.8 497.4,198 504.7,204 513,208.8 513,423.4 501,423.6 492,424.9 486,426.6 480.9,429 477,431.6 466.1,441 420,486.2 411,493.8 405,497.2 399,498.8 396,498.9 390,497.9 381,494.4 366,487.1 360,486.1 357,486.7 354,488.6 351,492.1 349.7,495 347.6,501 345.8,513 168.1,513 166.8,504 165,496.7 162,491 159,487.9 156,486.5 153,486.1 150,486.4 144,488.7 129,496.1 123,498.1 120,498.7 114,498.7 108,496.9 102,493.2 93.5,486 47.7,441 41.1,435 36,431 32.9,429 27,426.3 21,424.7 12,423.5 0,423.5 0,209.3 9.1,204 16.4,198 18.7,195 20,192 20.5,189 20.4,186 18.8,180 15,171.7 9.3,162 0,148.6Z"/>
<path fill="#8209bc" d="M0,0 143.8,0 153,5.3 168,11.1 177,16.7 222,51.5 234,60.1 243,65.9 249,68.9 252,69.9 258,70.6 264,69.2 267,67.9 279,60.6 300,45.3 333,19.4 342,13.2 348,10.1 363,4.2 370,0 513,0 513,137.7 477,180 470.4,189 467.6,195 467.6,198 469.6,201 473.9,204 487.9,210 513,219.1 513,414 459.7,405 429,401.8 417,401.6 408,402.3 397.3,405 391.5,408 384,413.9 378,420.5 372,429.6 369,435.9 366,444 358.5,468 348,490.5 345,503.1 344.1,513 169.7,513 168,498.4 165,488.4 157.9,474 154.2,465 147,441.6 144,434.1 141,428.2 135,419.5 129,413.2 122.3,408 116.5,405 105,402.2 96,401.6 84,401.8 54.1,405 0,414.2 0,219.3 25.9,210 39.9,204 44.2,201 45,199.9 46.1,198 46.2,195 45,191.7 39,182.8 26.9,168 0,136.8Z"/>
<path fill="#7005aa" d="M0,0 140.8,0 150,6.5 165,14.2 174,20.3 228,66.1 243,78.2 247.3,81 252,83.4 255,84.2 258,84.3 261,83.7 266.6,81 274.9,75 330,28.3 342,18.7 351,13 364.5,6 373,0 513,0 513,132.4 467.8,183 461,192 459.3,195 458.5,198 459,201 461.6,204 466.9,207 482.8,213 513,223 513,410.3 457.9,399 408.6,390 389,387 378,385.9 372,385.7 369,386.1 366,387.1 363,390.2 360,400.2 353.2,462 349.8,477 345,492.9 343.7,501 342.6,513 171.3,513 170.1,501 168.5,492 163.1,474 160.6,462 156,417.9 153,396.2 150.6,390 147,386.7 141,385.7 135,385.9 124.8,387 105.1,390 55.9,399 0,410.5 0,223.2 31,213 46.9,207 52.1,204 54,202 54.8,201 55.3,198 54.5,195 52.8,192 48,185.5 0,131.5Z"/>
<path fill="#5d0299" d="M0,0 138.3,0 147,6.8 165,17.5 174,24.2 225.1,69 243,84.1 247.3,87 252,89.3 255,90.1 258,90.2 261,89.6 264,88.3 270.8,84 282,74.8 327,35.1 342,22.4 351,16.1 366,7.3 375.5,0 513,0 513,128.8 477,168 459,188.4 454.4,195 453.2,198 453.1,201 454.7,204 456,205.1 458.7,207 465.3,210 513,225.6 513,407.8 444.8,393 385,381 369,378.7 363,379.2 360,380.5 357,384.8 355.3,393 354,405.4 351.9,438 349.9,462 347.1,477 342.9,495 341.2,513 172.6,513 171,495.5 166,474 163.6,459 158.6,393 157.4,387 156,383.2 153,380 150,379 147,378.7 141,379.1 113.2,384 69,393 0,407.9 0,225.9 48.5,210 55.1,207 57,205.7 59.1,204 60.7,201 60.6,198 59.4,195 52.8,186 0,128Z"/>
<path fill="#510095" d="M0,0 136.2,0 147,8.8 162,18.2 171,24.7 186,37.6 231,78.1 241.6,87 246,90.2 251.3,93 255,94 258,94 261,93.5 264,92.4 273,86.4 342,25.4 351,18.7 366,9.4 377.6,0 513,0 513,125.9 457.7,186 450.8,195 449.4,198 449,201 449.9,204 452.9,207 458.5,210 475.4,216 513,227.8 513,405.9 428.7,387 375,375.8 369,374.8 363,374.6 360,375 357,376.7 354,381 352.2,390 351,404.8 349,444 347.5,462 346.2,471 341.4,495 339.9,513 173.9,513 172.4,495 167.6,471 166,459 161.6,390 160.6,384 159,379.3 156,376.1 153.6,375 150,374.5 144,374.9 127.3,378 71.3,390 0,406.1 0,228 38.4,216 55.2,210 60.8,207 63.8,204 64.8,201 64.3,198 63,195 56.2,186 0,125.1Z"/>
<path fill="#4b009f" d="M0,0 134.2,0 147,10.8 165,22.6 174,29.8 231,81.3 241.3,90 246,93.4 251.2,96 255,96.9 258,97 264,95.5 268.4,93 273,89.7 342,27.9 351,21.1 369,9.1 379.6,0 513,0 513,123.6 454.8,186 447.9,195 446.4,198 445.8,201 446.4,204 448.6,207 453,209.9 456,211.2 469.1,216 513,229.5 513,404.2 384,375 366,371.7 360,371.7 357,372.5 354,374.7 352,378 350.9,381 350,387 346.1,456 344.3,471 339.9,495 338.7,513 175.1,513 173.9,495 169.4,471 167.7,456 163.8,387 161.9,378 159,373.9 156,372.2 153,371.6 147,371.8 129.6,375 0,404.4 0,229.8 44.7,216 57,211.6 60.6,210 65.2,207 67.4,204 68,201 67.4,198 66,195 59,186 0,122.7Z"/>
<path fill="#4400a8" d="M0,0 132.2,0 147,12.7 162,22.6 174,32.1 231,84.1 240,91.8 245.8,96 249,97.7 252.8,99 258,99.5 261.1,99 267,96.6 276,90.1 342,30.2 351,23.2 369,11 381.6,0 513,0 513,121.5 452.3,186 445.3,195 443.8,198 443.1,201 443.4,204 445.1,207 448.8,210 454.9,213 472.7,219 513,231.2 513,402.7 375,370.9 363,369 357,369.6 354,371 350.6,375 349.4,378 348,385.1 344.2,459 342.7,471 338.5,495 337.4,513 176.4,513 175,492 170.7,468 169.4,456 166.6,396 165.6,384 164.4,378 162,373.1 159,370.5 156,369.4 153,369 147,369.4 133.4,372 0,402.9 0,231.4 41.1,219 58.9,213 65,210 68.7,207 70.4,204 70.7,201 70,198 68.5,195 61.5,186 0,120.6Z"/>
<path fill="#3e00b2" d="M0,0 130.3,0 144,12.3 162,24.7 172.6,33 228,84 240,94.5 246,98.5 249,100 255,101.5 258,101.6 261,101.2 267,99 275.6,93 341.2,33 351,25.2 369,13 383.5,0 513,0 513,119.5 449.9,186 442.9,195 441.4,198 440.7,201 440.8,204 442.2,207 445.1,210 450.2,213 467.1,219 513,232.7 513,401.3 375,368.8 363,366.9 357,367.2 354,368.2 351,370.5 348.2,375 346.2,384 342.8,456 341.5,468 337.3,492 336.1,513 177.8,513 176.5,492 172.3,468 171,456 167.6,384 166.5,378 165,373.7 162,369.7 159,367.9 156,367 150,366.9 138,369 0,401.5 0,232.9 46.7,219 63,213.3 68.7,210 71.7,207 73,204 73.1,201 72.4,198 70.9,195 63.9,186 0,118.6Z"/>
<path fill="#3800bc" d="M0,0 128.3,0 144,14.4 162,26.7 173.6,36 228,86.6 238.7,96 243,99.1 249,102.1 252,102.9 258,103.4 264,102.4 267,101.1 270.9,99 276,95.3 288,84.6 340.2,36 351,27.3 369,15 385.5,0 513,0 513,117.6 447.6,186 440.7,195 439.2,198 438.5,201 438.5,204 439.6,207 441,209 444,211.7 450,214.9 465,220.1 513,234.2 513,400 372,366.2 366,365.1 360,364.7 354,365.9 351,367.7 348,371.1 346.1,375 344.3,384 341.3,456 339.9,468 335.6,492 334.8,501 334.5,513 179.2,513 178.2,492 173.9,468 172.5,456 170.1,393 169.1,381 167.7,375 166.4,372 164.2,369 162,367.1 159,365.6 156,364.9 150,364.8 138,367 0,400.2 0,234.5 48,220.4 63,215.3 67.8,213 72,209.9 74.2,207 75,204.9 75.3,201 74.6,198 73.1,195 66.2,186 0,116.8Z"/>
<path fill="#3100c6" d="M0,0 126.3,0 144,16.6 162,28.8 174,38.4 228,89.3 237,97.2 243,101.4 246,102.9 252,104.8 258,105.2 261,104.9 267,103.2 273,100 278.2,96 339.2,39 351,29.3 369,17.2 378,9.3 387.5,0 513,0 513,115.8 445.3,186 438.5,195 437.1,198 436.4,201 436.4,204 437.3,207 439.1,210 442.4,213 447,215.7 462,221.1 513,235.7 513,398.7 372,364.1 366,363 360,362.6 354,363.7 351,365.3 348,368 345.3,372 344.1,375 342.8,381 341.9,393 339.9,453 338.7,465 334,489 333.2,498 333,513 180.9,513 180.6,498 179.8,489 175.6,468 174,455.3 173.1,438 171.9,393 171,381 169.7,375 168.5,372 166.7,369 163.7,366 159,363.4 156,362.8 150,362.7 138,364.9 0,398.9 0,236 54,220.4 66,216.1 71.4,213 74.7,210 76.5,207 77.4,204 77.4,201 76.7,198 75.3,195 68.5,186 0,115Z"/>
<path fill="#2800d1" d="M0,0 124.1,0 135,11 144,19.1 162,30.9 172.1,39 225,89.3 235.9,99 240.1,102 246,105 252,106.5 258,106.8 264,106.1 267.7,105 273,102.4 279,98.1 288,90.1 341.6,39 351,31.5 369,19.7 378,11.7 389.7,0 513,0 513,114 442.9,186 436.3,195 434.4,201 434.4,204 435.1,207 438,211.8 441,214.6 447,218 462,223.1 513,237.3 513,397.4 372,361.8 366,360.7 360,360.4 354,361.6 351,363.1 347.4,366 344.9,369 342,375 340.7,381 340.1,390 339.1,438 338.3,453 336,469.7 331.4,489 330.7,498 330.9,513 182.8,513 183,498 182.4,489 181.3,483 177,465.7 175.5,453 174.7,435 173.7,390 173,381 171.8,375 168.9,369 165,364.7 162,362.7 159,361.3 153,360.4 147,360.8 141,362 0,397.6 0,237.5 51,223.3 60,220.6 69,217 74.7,213 77.2,210 78.6,207 79.4,204 79.4,201 78.8,198 77.5,195 75.7,192 70.9,186 0,113.2ZM252,415.6 249,417.8 246,421 240.8,429 239.4,432 237.5,438 237.3,441 238,444 240,446.7 243,448.4 246,449.3 252,450.2 264,450 270,448.7 273,447.3 275.9,444 276.5,441 276.3,438 275.5,435 273,429 270,424 267,420 264,417 261,415.2 258,414.2 255,414.4Z"/>
<path fill="#1d00dd" d="M0,0 121.6,0 135,14 144,22.2 150,26.3 162,33.3 172.9,42 188.8,57 225,92.5 234,100.6 240,104.5 246,107 252,108.2 258,108.4 264,107.8 270,106.2 276,103.3 281.7,99 340.9,42 351,33.9 366,24.9 372,20.4 392.1,0 513,0 513,112.2 443,183 435.6,192 432.9,198 432.4,201 433.2,207 434.4,210 436.2,213 441,217.5 447,220.7 465,226.2 513,239 513,396.1 372,359.1 366,358.1 360,357.9 357,358.4 351,361 345,366 342.6,369 339.7,375 338.5,381 337.8,390 337.2,435 336.4,453 335.2,462 333,471.1 328.3,483 327.6,486 327,495 328.1,513 185.6,513 186.8,498 186.7,489 184.5,480 180,468.5 178.1,459 177.1,450 176.5,432 176,390 174.9,378 172.9,372 168.8,366 165,362.5 159,359.1 156,358.2 150,357.9 141,359.3 0,396.3 0,239.3 57,223.9 69,219.7 75,215.8 78,212.5 80.6,207 81.4,201 79.8,195 78,191.8 73.5,186 0,111.4ZM252,407.2 249,408.6 245.5,411 237.1,420 228.3,432 219,447 215.9,453 212.8,462 212.6,465 213,468 214.9,471 219,473.4 225,474.9 234,475.8 246,476.2 267,476.2 282,475.7 291,474.5 297,472.4 298.9,471 300.8,468 301.2,465 300.2,459 294.8,447 285.5,432 274.2,417 267,410 264,408.1 261,406.9 258,406.3 255,406.4Z"/>
<path fill="#1300ea" d="M0,0 118.8,0 135,17.9 144,26.5 147,28.5 162,36 174,45.6 188.9,60 222,93.6 231,101.8 237,105.9 243,108.2 249,109.5 258,109.9 264,109.6 271.6,108 276,106.3 282.6,102 291,94.4 324.9,60 340.5,45 351,36.6 357,33.1 366,28.9 372,24.7 378,18.9 394.9,0 513,0 513,110.4 440,183 432.9,192 430.7,198 430.4,201 430.6,204 432,209.4 435,215.4 438,218.8 441,221.1 444,222.7 456,226.8 513,241 513,394.6 451.3,378 372,355.6 363,354.6 357,355.7 351,358.8 345,363.7 340.1,369 336.9,375 335.5,381 335,387 335,435 334.6,447 333.6,456 333,459.8 330,467.6 327,470.6 324,471.2 321,469.9 318,467 290.7,429 281.2,417 276,411.1 272.8,408 267,403.9 262.1,402 258,401.4 252,401.9 249,402.9 245,405 240,408.9 234,415.3 225.4,426 198,464.3 195,467.9 192,470.4 189,471.3 186,470.1 183,466.1 181.6,462 180,455.7 179.4,450 178.7,432 178.9,390 178.7,384 177.8,378 175.6,372 171.2,366 168,362.9 162,358.3 156,355.4 150,354.6 141,355.8 62.5,378 0,394.8 0,241.2 57,227 69,223.1 75,219.5 78.3,216 81.6,210 83.2,204 83.4,201 82.3,195 80.9,192 78.9,189 73.8,183 0,109.6ZM135,82.8 132,84.9 130.2,87 129,89.4 128.5,93 129.4,96 131.5,99 135.1,102 141,104.2 144,103.5 145.3,102 146.3,99 145.7,93 144,87.6 141,83.6 138,82.3ZM375,82.4 372,84.3 369,89.5 367.6,96 367.6,99 368.4,102 369,102.9 372,104.2 375,103.7 378,102.4 381,100.1 384.4,96 385.2,93 385,90 384,87.7 381,84.1 378,82.5ZM198.1,501 201,499.9 207,499.2 309,499.3 315,500.6 318,502.7 321,507.2 323,513 190.9,513 192,509 195,503.7Z"/>
<path fill="#0800f6" d="M0,0 115.5,0 125,12 141,34 144,35.8 153,36.6 159,38.1 162,39.5 168,43.7 182.5,57 221.9,99 228,104.6 233.7,108 240,110.1 249,111.2 258,111.4 267.4,111 276,109.5 282,107.1 288,102.8 294,96.9 328.4,60 345,44.3 348,41.9 354,38.4 360,36.7 369,36 372,34.7 375,31.5 386.5,15 398.3,0 513,0 513,108.5 436.2,183 432,188.2 429.8,192 428.3,198 428.3,201 429.4,207 432,215.3 435,221.2 438,224.7 441,227 450,230.2 485.2,237 513,243.3 513,292.2 507,291.2 498,290.9 492,291.2 486,292.3 483,293.2 480,294.8 477.8,297 476.9,300 477.7,303 479.6,306 483,309.3 489,313.5 497.3,318 504,320.7 510,322 513,322.1 513,393 470.1,381 430.1,369 402.6,360 375,350.3 369,349 363,349.4 357,352.1 351,356.4 343.2,363 336.9,369 334.4,372 331.4,378 330.7,381 330.3,387 331.9,423 331.9,441 331,450 330,454.9 327,459.3 324,459.5 321,457.7 318,454.8 288.6,417 283.5,411 277.5,405 273,401.7 267.3,399 264,398.1 258,397.4 252,397.8 246,399.2 240.3,402 236.3,405 231,410.2 225.3,417 198,452.3 192,458.3 189,459.7 186,458.7 184.5,456 183,452 182.1,444 181.9,423 183.5,387 182.4,378 181.2,375 179.3,372 173.8,366 162,355.8 156,351.7 153,350.2 150,349.3 147,348.9 141,349.7 132,352.4 102.3,363 74,372 0,393.2 0,322 3,322 9,320.9 16.5,318 24,314 30,309.9 34.1,306 36.2,303 36.8,300 36,297 33,294.2 27,292.1 21,291.1 12,290.9 6,291.3 0,292.4 0,243.5 28.6,237 63,230.4 72,227.4 75,225.4 78,222.3 81,217.2 84.4,207 85.5,201 85.5,198 85.1,195 82.4,189 77.5,183 0,107.7ZM135,49.5 129,53.4 123,58.6 109.9,72 105.5,78 104,81 103.3,84 103.4,87 104.4,90 106.4,93 109.1,96 112.6,99 121.5,105 132,110.6 138,113 144,114.3 147,114 150,112.6 151.7,111 153.5,108 154.3,105 154.6,96 153,84.5 150,70.8 147,60.6 144,53.4 141,49.5 138,48.6ZM372,50.2 369,55 366,63 363,74 360,89.3 359.1,99 359.4,105 360.3,108 362.1,111 366,113.8 369,114.3 375,113.3 381,111 387.1,108 397,102 404.7,96 407.4,93 409.4,90 410.4,87 410.5,84 409.8,81 408,77.5 402,69.8 393,60.7 384,52.8 378,49.1 375,48.6Z"/>
<path fill="#000cfc" d="M0,0 111.1,0 116.9,9 119.7,15 121.3,21 121.3,24 120.8,27 119.5,30 115.3,36 92.2,60 84.5,69 81.1,75 80.5,78 80.7,81 81.8,84 83.7,87 86.4,90 89.8,93 98.2,99 120,111.4 129,115.9 138,119.4 144,120.5 147,120.4 150,119.5 153,117.9 156,115.1 158.6,111 159.6,108 160.4,102 160.3,96 155.5,63 154.6,54 155.2,48 156,46.5 157.5,45 159,44.4 162,44.7 168,47.9 178,57 189.1,69 196.6,78 203.8,87 216,103.8 219,107.1 222,109.4 228,111.9 234,112.8 270,113 279,112.8 285,112.1 288.7,111 293.7,108 299.2,102 314.7,81 332.9,60 339,53.8 345,48.6 351,44.9 354,44.3 357,45.4 358.5,48 359.2,54 358.3,63 353.6,96 353.4,102 354.2,108 355.2,111 356.9,114 360,117.3 363,119.2 366,120.2 369,120.5 375,119.6 384,116.2 399,108.7 410.8,102 420,96 427.4,90 430.1,87 432,84 433.1,81 433.3,78 432.7,75 429.3,69 421.6,60 399,36.6 396,32.8 393,27 392.5,24 392.5,21 394.1,15 397,9 402.7,0 513,0 513,106.4 477,140.9 433.6,180 429,185.3 426.8,189 425.6,195 426.2,201 429.5,216 430.4,222 429.9,237 431,240 432,241.6 435,244.1 438,245.6 444,246.6 450,245.8 462,242.5 468,241.8 477,241.7 492.9,243 513,246.4 513,283.1 489,283.6 483,284.3 477,285.9 473.1,288 470,291 468,294.6 467.3,297 467.2,300 467.8,303 469.3,306 471.5,309 478.3,315 495,325.7 504,330.6 513,334.8 513,391.1 469.5,378 435.5,366 421.6,360 410.6,354 402.5,348 393.6,339 389.5,336 384,333.8 381,333.1 375,332.8 372,333.2 366,335.6 363,338.2 353.5,351 347.5,357 339,364.2 330,369.9 317.2,375 312.4,378 310.4,381 310.1,384 310.9,387 318,397.9 321,403.7 324,412.9 325.6,423 326.3,432 326,438 324,443.6 321,443.6 318,441.3 315,438 293.5,408 288,402.1 285,399.8 279,396.8 273,395.3 267,394.4 258,394 249,394.2 240,395.4 234,397.1 228,400.3 225,402.8 220.3,408 204,431.1 198,438.8 195,441.9 192,443.9 189,442.7 187.9,438 187.7,429 189,416.5 192,405.7 195,399.3 202.9,387 203.7,384 203.4,381 201.4,378 196.6,375 192,373.5 183,369.5 177,365.7 171,361.2 160.3,351 153,340.9 150,337.4 148.2,336 144,333.8 138,332.8 132,333.3 124.3,336 120,339.2 111.3,348 107.6,351 98.1,357 85.6,363 70.5,369 53.4,375 25.2,384 0,391.3 0,335.1 9,331 18,326.1 35.5,315 42,309.3 44.5,306 45.9,303 46.6,300 46.4,297 45.6,294 43.8,291 40.7,288 36,285.6 30,284.2 24,283.5 0,283.1 0,246.6 20.8,243 39,241.6 51,242.4 63,245.6 69,246.6 75,245.8 78,244.5 81,242.5 82.8,240 84,237 83.5,222 84.3,216 87.6,201 88.2,195 87.9,192 85.4,186 80.1,180 39,142.9 0,105.6Z"/>
<path fill="#0043ed" d="M0,0 104.5,0 106.4,6 106.8,9 106.6,12 105.8,15 104.3,18 97.1,27 73.5,51 65.3,60 61,66 59.6,69 59,72 59.1,75 60.1,78 64.5,84 67.8,87 75.7,93 85,99 102,108.9 126,122.2 135,126.6 141,128.1 144,128 147,127.2 150,125.8 156,121.6 161,117 163.6,114 167,108 167.8,105 168.2,99 167.2,90 164,72 163.3,63 163.5,60 165,56.4 168,56.4 171,58.2 177,64.1 183.1,72 188.1,81 190.3,87 191.6,93 192.7,105 193.6,108 195.1,111 197.6,114 201.1,117 206.5,120 213,121.5 219,121.4 240,115.9 249,114.7 258,114.5 273,115.7 291,120.6 297,121.6 303,121.2 307.2,120 312.7,117 316.2,114 318.7,111 320.2,108 321.1,105 322.2,93 323.4,87 327.1,78 332.9,69 339,61.7 345,56.7 348,56.1 349.1,57 350.4,60 350.6,63 349.7,72 345.7,96 345.6,102 346.8,108 350.3,114 352.8,117 360,123.3 366,126.9 369,127.8 372,128.1 378,126.9 384,124.3 417,105.9 433.6,96 442.3,90 449.3,84 453.7,78 454.7,75 454.8,72 454.2,69 452.8,66 448.5,60 440.3,51 416.7,27 409.5,18 408,15 407,9 408.1,3 409.3,0 513,0 513,104 483,132 462,150.2 444,164.1 423.5,177 420.1,180 418.9,183 419,186 419.8,189 425.6,207 427,216 426.8,219 425.3,225 420,237 419.6,240 419.9,243 421.2,246 423.2,249 429,254.4 438,261 452.1,270 456.2,273 459.2,276 461,279 461.7,282 461.7,285 459.3,300 459.3,306 460,309 461.5,312 464.1,315 474,322 513,343.5 513,388.7 489.2,381 473.3,375 459.9,369 449.8,363 443.3,357 439.8,351 438.1,345 435.9,333 434.9,330 433.2,327 429.9,324 421.6,321 411,320.1 396,320.4 381,322 369,324.6 364.1,327 360,330.6 357,335.7 353.5,345 350.2,351 345,357 339,361.7 333,364.6 330,365.4 324,365.9 309.1,366 303,367.4 299.1,369 294.6,372 282.3,384 277.9,387 270,389.7 258,390.7 245.9,390 240,388.7 237,387.5 231,383.6 219,371.8 214.7,369 210,367.1 204,365.9 189,365.9 183,365.2 180,364.3 174,361.2 168.8,357 163.5,351 160.3,345 156,334.1 153.3,330 150,327.1 147,325.5 141,323.5 129,321.4 117,320.4 105,320 96,320.5 90,321.6 83.9,324 81,326.6 78.9,330 77.9,333 75.7,345 74,351 70.5,357 64,363 53.9,369 40.5,375 24.6,381 0,389 0,343.9 39,322.5 46,318 49.7,315 52.3,312 53.8,309 54.5,306 54.5,300 52.1,285 52.1,282 52.8,279 54,276.8 57,273.5 60,271.2 84.1,255 90,249.6 93,245.3 93.8,243 94.2,240 93.8,237 92.8,234 88.5,225 87.6,222 86.9,216 88.2,207 94.1,189 94.8,186 94.9,183 93.7,180 90.3,177 69,163.5 48,147 24,125.8 0,103.3ZM0,252 12,252.2 20.8,255 24.3,258 26.1,261 26.7,264 26.1,267 23.1,270 18,271.9 12,273.3 0,274.7ZM503.6,252 513,251.9 513,274.6 498,272.6 490.7,270 487.7,267 487.1,264 487.7,261 489.5,258 493.1,255 495,254.1Z"/>
<path fill="#0075dc" d="M0,0 93,0 90.4,6 85.8,12 53.3,45 45.1,54 40.8,60 39.3,63 38.5,66 38.5,69 39.4,72 41,75 46.4,81 58,90 94.3,114 101.3,120 103.9,123 105.7,126 106.3,129 105.8,132 104.1,135 101.4,138 93,144.4 82.7,150 78,151.4 75,151.8 69,151.3 60,148.1 48,141 36,132.1 18,117 0,100.6ZM420.9,0 513,0 513,101.4 489,122.8 471,137.2 456,147 450,149.8 444,151.4 438,151.7 432,150.4 425,147 417,141.8 411,136.5 408,132.1 407.5,129 408.1,126 409.9,123 412.5,120 419.5,114 455.8,90 467.4,81 472.8,75 474.4,72 475.2,69 475.3,66 474.5,63 473,60 468.7,54 460.5,45 428,12 423.4,6ZM246.4,117 252,116.2 258,116 267.4,117 276,119.6 291,126.5 300,128.6 306,128.4 312,127.1 315.9,126 333,119 339,117.6 342,117.7 345,118.4 348,119.8 351,121.7 356.1,126 361.4,132 364,138 364.7,144 364,162 365.3,168 366.9,171 369,173.5 374.1,177 381,180 405,187.6 411,190.3 417,195 420,198.7 421.2,201 423,205 424.3,210 424.5,216 422.9,222 417,232.6 415.1,237 414.4,240 414.3,243 415,246 417,250.1 421.1,255 444,274.1 449,279 451.2,282 453,286 453.7,291 452.4,297 450,301.2 447,304.2 444,305.9 438,308 429,309.6 389,315 375,317.7 366,320.6 360.5,324 357,327.9 354,333.7 350.5,345 347.6,351 345,354.5 342,357.3 339,359.4 336,360.9 330,362.3 309,361.7 300,363.1 294,365.8 289.3,369 279,378.4 273,383.1 267,385.9 262.4,387 258,387.4 249,386.5 242.3,384 237,380.4 224.5,369 220.2,366 213.4,363 204,361.7 189,362.4 183,362.2 177,360.5 174,358.9 171,356.6 166.1,351 163.3,345 159,331.8 156.2,327 153,323.7 147,320.3 138,317.5 124.8,315 78,308.5 72,306.9 66,303.5 63,300 60.5,294 60.3,288 61.1,285 62.6,282 64.8,279 69,274.9 92.7,255 96,251.2 98.9,246 99.5,243 99.4,240 98.8,237 96,231 90.9,222 89.3,216 89.2,213 90,207.6 93,200 96,195.7 99,192.9 102,190.8 111,186.9 132.8,180 138,177.8 144,174.2 147,171 148.5,168 149.9,162 149.3,141 150.8,135 154.7,129 162,122.3 168,118.7 171,117.8 177,117.9 180,118.7 198,126 207,128.3 213,128.6 222,126.8 237,119.9ZM19.2,345 24,343.8 30,343.3 33,344 36,346 37.4,348 38.6,351 39.1,354 38.6,360 37.5,363 35.6,366 32.8,369 24.2,375 11.9,381 0,385.5 0,352.9 12,347.6ZM478.9,345 483,343.4 486,343.3 492,344.3 501,347.3 513,352.5 513,385.2 501.9,381 489.6,375 484.8,372 481,369 478.3,366 476.3,363 475.2,360 474.7,354 475.2,351 476.3,348Z"/>
<path fill="#0096c3" d="M0,0 72.9,0 28.8,45 21.6,54 19.1,60 18.9,63 19.5,66 20.9,69 25.7,75 36.3,84 60.5,102 66.7,108 68.9,111 70.3,114 70.6,117 69.8,120 67.9,123 66,124.9 60,128.8 57,129.8 51,130.3 45,129.1 39,126.6 33,123.2 24,117.1 12,107.7 0,97.3ZM440.9,0 513,0 513,98 498,110.8 486,119.8 474,126.9 468,129.3 465,130 459,130.2 456,129.6 453,128.4 449.1,126 445.9,123 444,120 443.2,117 443.5,114 444.9,111 447.1,108 453.3,102 477.5,84 488.1,75 492.9,69 494.3,66 494.9,63 494.7,60 492.2,54 485,45ZM243.6,120 249,118.5 255,117.7 264,118.3 273,121.2 287.8,129 291,130.3 297,132.1 303,132.8 312.2,132 333,125.6 339,124.2 345,124.4 348,125.4 351,127.3 355.3,132 357.7,138 358.4,144 358.5,159 359.1,165 360,168.6 363,174.1 365.8,177 369,179.2 376.8,183 408,193.4 414,196.8 417,199.4 420,203.4 422.3,210 422.2,216 419.9,222 414,231.7 411.5,237 410.4,243 411,247.3 413,252 417,257.4 423,263.2 437.8,276 443.4,282 445.3,285 446.4,288 446.5,291 445.7,294 444,296.4 439,300 432,302.5 423,304.4 381,312 372,314.2 366,316.4 360,320.1 357,323 354.2,327 351.5,333 346.9,348 345.3,351 342.9,354 339,357.1 336,358.5 330,359.7 309,358.7 303,359.2 297,360.7 291.6,363 286.8,366 270,380 264,382.9 258,384 252,383.5 246,381.3 240,377.2 227,366 222.2,363 216,360.4 210,359.1 204,358.7 183,359.6 177,358.2 174,356.6 170.9,354 166.9,348 162,332.1 159,326 156,322.2 153,319.5 147,316.1 141,314 132,311.8 84,303 75,300.1 70.4,297 68.1,294 67.3,291 67.5,288 68.5,285 70.4,282 76,276 96.2,258 100.8,252 102.3,249 103.1,246 103.3,243 102.3,237 99.4,231 93.9,222 91.6,216 91.5,210 93.5,204 96,200.2 99,197.4 105,193.8 114,190.4 137,183 144,179.8 148,177 150,175 152.8,171 154.7,165 155.4,159 155.4,144 156.1,138 158.5,132 160.9,129 165,125.8 168,124.6 174,124.1 180,125.4 201,131.9 207,132.7 213,132.6 219,131.6 225,129.4ZM0,369 0.6,369 2.4,372 1.2,375 0,376.2ZM511.5,372 513,369.1 513,375.4Z"/>
<path fill="#00ada8" d="M0,0 49.7,0 19.6,30 8.3,42 1.7,51 0,56ZM464.1,0 513,0 513,53.1 510.3,48 502.8,39ZM0,63 0,60 1,63 2.7,66 7.9,72 29.3,90 35.3,96 37.5,99 38.8,102 39,105 37.4,108 36,108.9 33,109.9 30,109.9 24,108.4 18,105.5 12,101.8 0,92.7ZM512.8,63 513,62.5 513,93.4 501,102.3 495,105.9 489,108.7 483,109.9 480,109.7 476.4,108 474.8,105 475,102 476.3,99 478.5,96 484.5,90 505.9,72 511.1,66ZM250.9,120 258,119.4 262.8,120 267,121.1 273,123.8 288,132.1 294,134.2 300,135.6 306,136 315,135.3 339,129.3 342,129.2 345,129.7 349.1,132 351.6,135 353.5,141 354.5,159 356.1,168 359,174 361.4,177 366,180.9 369.5,183 375,185.4 399,193.2 408,196.6 414,200.1 417.7,204 419.3,207 420.2,210 420.4,213 419.9,216 417.2,222 411.5,231 408.6,237 407.4,243 407.3,246 408,250.5 409.8,255 414,261 432.9,279 437.3,285 438.2,288 437.7,291 435.3,294 429.5,297 418.2,300 393,304.8 378,308.1 369,311.1 363,314.2 357,319.2 353.3,324 350.3,330 344.6,348 342,352 339,354.7 336,356.2 330,357.3 309,356.2 303,356.7 297,358.1 291.4,360 285.6,363 267,377.3 264,378.8 258,380.3 252,379.6 248.1,378 243,374.7 232.5,366 228.2,363 222.4,360 216,357.8 210,356.6 204,356.2 183,357.2 177,355.8 173.9,354 171,351 169.2,348 168,345 164.6,333 162.2,327 160.4,324 156,318.3 150,313.7 144,310.7 135,307.9 95.6,300 84.3,297 78,293.5 76.1,291 75.6,288 76.5,285 80.9,279 96,265 102,258.3 105,252.9 106.1,249 106.4,243 105.2,237 102.3,231 96,220.9 93.9,216 93.4,213 93.6,210 94.5,207 96,204.1 99,200.8 105,197 114,193.5 138,185.8 147,181.4 152.5,177 156.5,171 158.5,165 159.3,159 160.3,141 162,135.5 164.6,132 168,129.9 171,129.2 174,129.2 180,130.3 198,135.2 207,136.1 213,135.7 219,134.5 225,132.4 243,122.7Z"/>
<path fill="#009f86" d="M0,0 27,0 0,27ZM486.8,0 513,0 513,26.2ZM247.8,123 255,121.4 258,121.4 264,122.3 270,124.7 282.7,132 288,134.5 297,137.4 303,138.6 309,139.1 315,138.9 321,138.1 334.7,135 339,134.5 342,134.8 345,136.1 348,139.9 349.2,144 350.7,159 352.9,168 355.9,174 360,179.1 364.8,183 372,186.8 378,189.2 402,196.9 408,199.4 414,203.3 416.9,207 417.9,210 418.1,213 417.5,216 414.6,222 408.9,231 406.2,237 404.7,243 404.6,252 405.9,258 408.8,264 414,270.5 422.1,279 424.2,282 425.5,285 425,288 421.6,291 420,291.7 413.1,294 393,298.3 381,301.4 372,304.8 363,310.1 357,315.6 351,323.9 348,330.3 344.5,342 342.1,348 339,351.8 336,353.7 330,354.9 309,354.1 303,354.7 294,356.7 285.5,360 280.1,363 267,372.5 264,374.2 261,375.4 258,375.9 255,375.8 252,375.1 249,373.8 233.7,363 228.4,360 219,356.4 207,354.2 201,354 183,354.9 180,354.4 177,353.3 173.9,351 171,346.7 165.7,330 162,322.6 156,314.7 150,309.5 141,304.4 132,301.2 100.7,294 93,291.3 88.8,288 88.4,285 89.5,282 91.7,279 102,268 105,263.9 107.9,258 109.2,252 109.1,243 107.7,237 104.9,231 99,221.7 96.3,216 95.7,213 95.9,210 97,207 99.1,204 102.9,201 108,198.4 135,189.4 143.7,186 149,183 153,179.9 157.9,174 159.6,171 161.9,165 163.1,159 164.2,147 165.3,141 168,136.8 170.9,135 174,134.5 177,134.7 198,138.8 204,139.1 213,138.3 225,134.8Z"/>
<path fill="#009162" d="M0,0 5.2,0 0,5.2ZM508.6,0 513,0 513,4.4ZM246.3,126 252,124 255,123.5 261,123.8 267.5,126 282,134 288,136.6 294,138.7 303,141 315,142.5 321,142.5 333,141.6 336,141.6 339,142.3 342,144.5 343.3,147 347.4,162 351.3,171 355.4,177 360,181.8 366,186.2 372,189.2 399,198.3 408,202 411.1,204 414,207 415.4,210 415.6,213 415,216 413.7,219 406.4,231 403,240 401.4,249 399.7,267 398.4,273 397.2,276 395.3,279 392.5,282 369,299.7 363,305.2 357,311.9 351,320.4 347.4,327 345,333 342,342.5 339,348.2 335.5,351 330,352.3 309,352.1 300,353.3 294,354.7 282,358.9 273.8,363 264,368.7 258,370.4 255,370.4 252,369.6 249,368.3 234.4,360 227.3,357 219,354.5 213,353.2 204,352.1 183,352.3 178.4,351 174.7,348 172.9,345 167.7,330 165,324.2 162,319.1 156,310.9 150,304.4 144,299.1 121.3,282 117,276.6 114.6,270 112.4,249 110.9,240 107.4,231 100.1,219 98.8,216 98.2,213 98.4,210 99.8,207 102,204.6 105,202.5 114,198.5 134.4,192 142.2,189 150,184.8 155.8,180 160.6,174 164,168 166.4,162 170.5,147 172.4,144 174,142.7 177,141.7 180,141.5 192,142.5 198,142.5 204,142.1 213,140.5 222,138.1 229.7,135Z"/>
<path fill="#008b41" d="M254.5,126 258,125.9 264,127.2 282,136.2 294,140.7 327,149 333,151.3 336,153.4 339,156.6 348.5,171 353,177 357,181.4 362.3,186 369,190.1 375,192.7 399,200.7 406.6,204 411,207.6 412.4,210 412.9,213 412.3,216 411,219 405.6,228 402.8,234 397,255 393,263.6 388.5,270 369,291.6 360,303.3 347,324 344.1,330 339,342.9 336,346.9 333,348.7 330,349.4 312,350 297,352.2 279.6,357 264,362.7 258,363.9 255,363.8 249,362.5 234.2,357 224.4,354 216,352 204,350.1 183,349.3 180,348.4 177,346.1 174,341.2 169.7,330 166.8,324 156,306.6 147,294.3 127.8,273 123,267 120,262.3 116.9,255 111,234 108.2,228 102.8,219 101.5,216 100.9,213 101.4,210 103.3,207 108,203.6 114,201 141,191.8 147,188.9 153,184.9 160.8,177 165.3,171 174,157.7 177,154.1 180,151.8 186,149.3 210,143.5 225,138.9 234.3,135 246,128.8 252,126.5Z"/>
<path fill="#00851f" d="M253.7,129 258,128.7 264,130.1 281.4,138 312,148.7 324,154 333,159.5 339,164.4 356.2,183 363,188.7 369,192.4 375,195.1 400.7,204 406.1,207 408.8,210 409.6,213 409.2,216 401.7,231 396,249.1 391.8,258 387,264.7 369,285 363,293.1 343.5,327 336,341.6 333,344.5 330,345.9 306,348.8 270,356.6 258,358.2 249,357.5 210,349.2 201,347.8 186,346.4 181.7,345 180,343.9 177,340.4 168.6,324 156,301.6 150,291.9 144,284.1 126.3,264 122,258 117.7,249 112.1,231 104.6,216 104.2,213 105,210 107.7,207 114,203.6 141,194.2 150,189.3 157.5,183 174,165.2 180,160.1 186,156.2 195,151.5 201,149 231,138.6 249,130.4Z"/>
<path fill="#028100" d="M245.2,135 252,132.7 255,132.1 261,132.5 301.4,147 312,151.7 327,160.3 339,168.5 345,173.7 357,185.9 366,193 372,196.3 378,198.9 392.6,204 399.8,207 403.9,210 405.5,213 405.4,216 404.5,219 399.3,231 394.8,246 390.3,255 386,261 369,280.2 363,288 357,298.1 348.5,315 339,331 333,339.1 328.7,342 321,344.1 282,351.9 270,353.5 258,354.1 246,353.7 234,352.3 192,344 185.1,342 183,340.9 180,338.3 177,334.4 167,318 156,296.6 150,286.9 144,279.2 127.8,261 123,254.3 120,248.4 114,229.7 108.4,216 108.3,213 109.9,210 114,207 135,199.2 147,193.5 156,186.6 168,174.5 174,169.1 183,162.7 198,153.7 212.4,147Z"/>
<path fill="#1e8f00" d="M245.2,138 255,135.9 258,135.9 264,136.7 291,145 306,151.2 318,158.1 339,171.4 345,176.2 360,190.8 366,195.4 375,200.6 390.4,207 396,209.8 399.4,213 400.3,216 399.3,222 393.7,243 390,251 384,259.3 369,276.1 363,283.8 357,293.6 346.8,315 339,327.1 333,334.2 330,336.6 324,339.8 306.9,345 288,349.1 273,350.8 255,351.2 237,350.6 225,349 204,344.2 189,339.5 183,336 180,333.3 174,326.1 167,315 159,298.1 153,287 147,278.8 128.7,258 124.4,252 121.3,246 119.2,240 113.7,219 113.5,216 114.3,213 117,210.3 123.4,207 141,199.5 147,196 153,191.4 168,176.9 174,172 201,154.9 210,150.2 217.4,147Z"/>
<path fill="#3a9d00" d="M244.4,141 255,139.5 261,139.7 267,140.5 276,142.4 288,145.8 297,149.1 303,151.9 333,169.9 342,175.9 348,181 360,193 366,198.1 372,202.3 385.9,210 390.5,213 393.2,216 394.4,219 394.7,225 393.8,234 392.4,240 390,246.4 384.5,255 366.1,276 360,284.5 354,295.7 346.7,312 342,319.9 336,327.4 330,332.7 321,337.8 310.4,342 297,345.8 282,348.3 267,348.9 237,348.7 225,347.4 213,344.9 201,341.1 189,335.9 183,332.1 180,329.6 174,323 167.1,312 159,294 153,283.2 147,275.1 129,254.6 125.2,249 122.4,243 120,234 119,222 119.4,219 120.6,216 123.3,213 127.9,210 141,202.8 147,198.8 153,193.8 168,179 174,174.4 204,155.7 213,150.8 222,147.1 234,143.4Z"/>
<path fill="#56ab00" d="M241,144 249,143 258,142.6 273,144 288,147.6 294.7,150 303,154 333,172.1 345,180.3 366,201.2 385.2,216 387.9,219 389.6,222 390.7,225 391.3,231 390.8,237 390,240.4 387.7,246 381.5,255 366,272.6 360,280.9 354,291.9 345,312 339,321.2 333,327.2 327,331.5 315,337.9 303,342.5 291,345.5 279,346.8 234,346.8 222,345.3 213,343.2 204,340.1 192,334.5 183,328.9 177,323.6 174,320.2 168.8,312 159,290.2 153,279.7 147,271.6 129.9,252 126.1,246 123.7,240 122.6,234 122.6,228 124.2,222 125.9,219 128.6,216 132.2,213 144,204.4 150,199.3 168,181 174,176.4 180,172.5 213,152.9 225,147.8 234,145.3Z"/>
<path fill="#72b900" d="M235.4,147 243,145.9 252,145.3 264,145.4 273,146.1 282,147.7 288,149.4 300,154.5 336,175.8 345,182.1 352.1,189 366,204.7 381.7,219 384.3,222 387.5,228 388.1,231 388.1,237 387,241.6 385,246 380.9,252 366,269.1 360,277.4 354,288.3 344.9,309 342,314.2 339,318.4 333,324.5 327,328.8 314.1,336 303,340.7 294,343.3 282,345 243,345.3 231,344.9 222,343.7 213,341.5 204,338.1 192,331.9 186,328.3 180,323.8 174,317.4 169,309 159,286.6 154.8,279 147,268.1 132,250.8 128.8,246 126.3,240 125.6,237 125.6,231 127.6,225 129.5,222 135.2,216 150,202.5 161.7,189 168,182.8 177,176.3 213,154.9 224,150Z"/>
<path fill="#8ec700" d="M230.2,150 240,148.3 249,147.6 261,147.6 273,148.2 285,150.3 292.7,153 299,156 336,177.6 345,184 352.8,192 366,208.6 379,222 381.4,225 384,229.7 385,234 385,237 383.4,243 379.8,249 366,265.3 360,273.7 354,284.7 343.2,309 339,315.7 333,322 327,326.4 315,333.4 303,338.9 292.4,342 282,343.4 243,343.7 231,343.3 222,342.1 213,339.7 204,336 195,331.3 183,323.7 177,318.3 174,314.6 169.1,306 159,283.1 153,272.5 147,264.3 135,250.4 131.9,246 130.4,243 129,238.6 128.7,234 129.3,231 132,225.5 134.8,222 150,206.1 161,192 166.6,186 171,182.2 177,178.1 210,158.6 221.1,153Z"/>
<path fill="#aad500" d="M242.6,150 255,149.5 270,149.9 279,150.9 287.4,153 294,155.6 300,158.6 336,179.3 345,185.8 350.9,192 363,209.1 378,227.3 380.1,231 381,233.9 381.2,237 380.8,240 378,246 366,260.9 360,269.7 354,281.1 343,306 337.3,315 330,322 321,327.9 309,334.4 297,339.2 288,341.1 276,342 240,342.1 228,341.4 219,339.8 210,336.8 201,332.5 192,327.4 186,323.5 180,318.8 174,311.7 170.8,306 162,286 156,273.5 150,263.9 135.8,246 133.1,240 132.6,237 132.8,234 135.3,228 150,210.2 162.9,192 171,184 183,176.2 210,160.6 219,155.9 225,153.5 231,151.7Z"/>
<path fill="#c5e200" d="M234.2,153 243,151.9 255,151.4 270,151.8 279,152.9 288,155.2 294,157.6 312,167.2 336,181 342,185.2 346.3,189 353.4,198 363,213.9 372.7,228 375,232.4 375.9,237 375.5,240 374.4,243 363,259.6 360,264.7 354,277.1 342.8,303 337.5,312 331.9,318 323.8,324 312,330.9 300,336.4 291,338.9 279,340.3 249,340.6 231,340 222,338.7 213,336.1 204,332.1 195,327.1 186,321.3 181.9,318 177,312.9 174.2,309 169.6,300 156,269 150,258.4 141.1,246 138.2,240 137.8,237 138.2,234 141,228 150,215.2 160.4,198 164.8,192 168,188.5 174,183.6 180,179.7 213,161 225,155.5Z"/>
<path fill="#e1f000" d="M230,156 240,154.1 249,153.4 261,153.2 273,154 282,155.5 288,157.3 294,159.7 303,164.2 333,180.9 340.6,186 345,189.8 349.4,195 353.3,201 358,210 366.4,228 368.2,234 368.4,237 367,243 357,265 345,294.8 339,306.8 333,314.5 327,319.6 315,327.3 303,333.3 294,336.4 282,338.4 264,339.1 237,338.8 228,338 218.3,336 210,333 198,326.8 189,321.2 183,316.5 178.6,312 174,305.4 168,292.9 156,263 146.8,243 145.4,237 145.6,234 147.4,228 154.3,213 160.5,201 164.4,195 168,190.7 173.2,186 177,183.3 189,176.2 216,161.5 222,158.8Z"/>
<path fill="#fdfe00" d="M239.9,156 249,155.2 261,155 270,155.6 279,156.9 286.7,159 294,161.9 312,170.9 333.5,183 339,186.7 344.9,192 349.5,198 352.9,204 358.8,219 361,228 361.6,234 361.1,240 359.2,249 354.7,264 348.6,282 345,291.1 339.3,303 333,311.7 329.7,315 324,319.5 311.9,327 306,330 297,333.6 288,335.9 276,337.1 258,337.6 240,337.3 231,336.6 222,335 215.1,333 207,329.6 196.7,324 189,318.9 183,314 178.5,309 174,302.1 171,296.1 165.2,282 160,267 153.9,246 152.4,237 152.4,231 154.1,222 157,213 160.9,204 166.4,195 172,189 180,183.2 207,168.1 219,162.2 225,159.8 231,157.8Z"/>
<path fill="#ffea00" d="M234.9,159 249,157.1 258,156.8 267,157.2 279,159 288,161.7 294,164.1 303,168.2 319.9,177 330.4,183 339,188.8 342.5,192 347.4,198 350.8,204 353.2,210 355.8,219 356.8,225 357,234 356.3,243 353.6,258 350.6,270 346.8,282 342,294 336,304.8 332.8,309 327,314.7 321,319.2 313.4,324 300,330.5 292,333 285,334.4 273,335.6 261,335.9 246,335.8 234,335 225,333.7 216,331.2 207,327.5 200.3,324 191,318 183.9,312 180,307.7 176.6,303 171,292.2 168,284.8 164,273 160.1,258 157.5,243 156.7,234 157,225 158,219 160.6,210 164.6,201 168,195.7 171.2,192 177,187.2 183.4,183 199.5,174 216,165.7 225,162Z"/>
<path fill="#ffd400" d="M249.6,159 258,158.8 267,159.2 281.8,162 297,167.6 316.1,177 331.9,186 336.2,189 342,194.2 345.1,198 348,202.9 351.8,213 353.4,222 353.8,231 353,243 351.5,255 349.2,267 346.8,276 342.7,288 339,296 336,301.2 330,308.9 321,316.7 314.6,321 306,325.6 297,329.3 291,331 280.2,333 270,333.8 255,334.1 240,333.6 231,332.6 222,330.8 213,327.9 207,325.2 199.2,321 190.5,315 183.9,309 180,304.3 174,294.4 171.1,288 167.8,279 165.3,270 162.8,258 161.1,246 160.1,234 160.1,225 161.3,216 162.9,210 165.2,204 168.7,198 173.9,192 181.9,186 192.1,180 209.5,171 222,165.5 231,162.3 240,160.2Z"/>
<path fill="#ffbd00" d="M243.1,162 258,161 270.6,162 283.4,165 299.1,171 311.7,177 322.9,183 336,191.5 339.8,195 344.5,201 348.4,210 350.3,219 350.8,228 350.3,240 349.1,252 347.3,264 345,274.8 342,284.3 339.2,291 336,297 333,301.5 329.3,306 323.1,312 315,318 310,321 304,324 296.4,327 282,330.4 270,331.6 258,332 246,331.7 234,330.7 228,329.7 217.4,327 210,324.1 203.8,321 194.5,315 187.4,309 182,303 177,295.6 174,289.6 171,282 168,271.6 165.5,258 163.8,243 163.1,231 163.2,222 164.6,213 166.4,207 169.4,201 173.9,195 177.2,192 185.7,186 196.3,180 208.2,174 222,168 231,164.8Z"/>
<path fill="#ffa600" d="M242,165 255,163.7 261,163.8 270,164.7 283.5,168 299.3,174 318,183 332.5,192 339.1,198 342,202 345,208.2 346.9,216 347.6,222 347.7,231 346.9,243 345.5,258 344,267 342,276.4 339,285.2 336,291.6 332.8,297 327,304.2 322.1,309 315,314.6 309.5,318 303.7,321 296.2,324 285,327 279,327.9 270,328.8 258,329.3 246,329 234,327.8 228,326.8 217.6,324 210,321 204.2,318 198,314 191.7,309 185.7,303 180,295.4 177,290.1 174,283.1 171,273.3 168.8,261 167.1,246 166.2,231 166.2,222 166.9,216 168.2,210 171,203.3 174.8,198 180,193.1 185.6,189 195.9,183 207.8,177 221.8,171 231,167.8Z"/>
<path fill="#ff9300" d="M246,168 258,167.3 270,168.4 280.7,171 289.7,174 304.3,180 321.8,189 330.7,195 336,199.9 339,203.8 342,210.2 343.3,216 344,225 342.8,249 341.9,258 339.9,270 339,274.4 336,283.4 333,289.6 330,294.3 324,301.6 319.4,306 312,311.8 306.7,315 300.6,318 292.3,321 276,324.3 264,325.3 255,325.4 235.1,324 219,320.1 213.1,318 207,315 198,309.1 192,303.8 186,297.3 183,293.2 179.9,288 176.2,279 174,271.1 172,258 170.7,246 169.8,228 170.1,219 171,213 173.1,207 174.7,204 177,200.8 183,195 192,189 203.1,183 224.1,174 233.1,171Z"/></g></g></g></g>
<g id="overlay"><ellipse cx="256.9" cy="255.3" rx="252.5" ry="251" fill="none" stroke="#000" stroke-width="0.9"/>
<path d="M255.9,27.1V483.5" stroke="#000" stroke-width="1.4" fill="none"/><path d="M27.4,256.5H234.0M277.6,256.5H486.4" stroke="#000" stroke-width="1.1" fill="none"/>
<path d="M237.9,167.1C230.8,168.5 219.7,171.1 212.9,174.1C206.2,177.0 202.8,179.4 197.3,185.1C191.8,190.8 183.6,200.0 179.9,208.2C176.3,216.4 176.5,226.4 175.3,234.3C174.0,242.2 172.4,248.5 172.4,255.7C172.4,263.0 173.6,270.7 175.3,277.8C177.0,284.8 179.2,292.1 182.8,298.0C186.5,304.0 192.3,309.6 197.3,313.7C202.3,317.7 206.2,320.9 212.9,322.4C219.7,323.8 231.8,322.9 237.9,322.4C243.9,321.9 246.4,320.1 249.4,319.5C252.5,318.8 253.5,318.0 256.4,318.3C259.3,318.6 260.3,320.5 266.8,321.2C273.4,321.9 288.6,323.3 295.8,322.4C303.0,321.4 305.5,318.5 310.3,315.4C315.1,312.3 320.4,308.7 324.8,303.8C329.1,299.0 333.3,293.2 336.4,286.4C339.4,279.7 342.5,271.0 343.3,263.3C344.1,255.5 342.1,246.9 341.0,240.1C339.8,233.3 337.6,228.5 336.4,222.7C335.1,216.9 335.4,210.2 333.5,205.3C331.5,200.5 329.1,197.8 324.8,193.7C320.4,189.7 313.2,184.7 307.4,181.0C301.6,177.3 295.8,174.1 290.0,171.7C284.2,169.3 278.4,167.5 272.6,166.5C266.8,165.6 261.0,165.8 255.2,165.9C249.4,166.0 244.9,165.7 237.9,167.1Z" fill="none" stroke="#1f4e79" stroke-width="2"/><path d="M258.1,102.8C266.8,102.4 276.5,103.6 284.2,105.7C291.9,107.8 300.0,110.5 304.5,115.5C309.0,120.6 311.4,128.6 311.4,135.8C311.4,143.1 309.0,152.2 304.5,159.0C300.0,165.7 291.5,172.4 284.2,176.4C277.0,180.3 268.8,182.3 261.0,182.7C253.3,183.2 244.6,182.3 237.9,179.3C231.1,176.3 224.5,170.6 220.5,164.8C216.4,159.0 214.0,151.7 213.5,144.5C213.0,137.3 214.5,127.4 217.6,121.3C220.7,115.2 225.3,111.1 232.1,108.0C238.8,104.9 249.4,103.2 258.1,102.8Z" fill="none" stroke="#1c7a1c" stroke-width="1.8"/><path d="M224.5,328.7C227.0,325.9 235.4,328.2 240.8,327.6C246.1,327.0 251.1,325.4 256.4,325.3C261.7,325.2 267.2,326.6 272.6,327.0C278.0,327.4 286.0,324.7 288.8,327.6C291.7,330.5 290.8,338.7 290.0,344.4C289.2,350.1 287.1,356.7 284.2,361.8C281.3,366.8 277.0,371.6 272.6,374.5C268.3,377.4 263.2,379.1 258.1,379.1C253.1,379.1 246.8,377.4 242.5,374.5C238.2,371.6 234.8,366.8 232.1,361.8C229.4,356.7 227.5,349.9 226.3,344.4C225.0,338.9 222.1,331.5 224.5,328.7Z" fill="none" stroke="#8a4444" stroke-width="1.6"/></g></defs><g transform="translate(945,148)"><use href="#dosemap"/><g clip-path="url(#kite)"><path d="M0,483.5H513M0,460.5H513M0,438.5H513M0,415.5H513M0,392.5H513M0,369.5H513M0,346.5H513M0,323.5H513M0,301.5H513M0,278.5H513M0,255.5H513M0,232.5H513M0,209.5H513M0,187.5H513M0,164.5H513M0,141.5H513M0,118.5H513M0,95.5H513M0,72.5H513M0,50.5H513M0,27.5H513M27.5,0V512M142.5,0V512M257.5,0V512M372.5,0V512M486.5,0V512" stroke="#909890" stroke-width="1" fill="none" opacity="0.55"/><path d="M0,483.5H513M0,460.5H513M0,438.5H513M0,415.5H513M0,392.5H513M0,369.5H513M0,346.5H513M0,323.5H513M0,301.5H513M0,278.5H513M0,255.5H513M0,232.5H513M0,209.5H513M0,187.5H513M0,164.5H513M0,141.5H513M0,118.5H513M0,95.5H513M0,72.5H513M0,50.5H513M0,27.5H513M27.5,0V512M142.5,0V512M257.5,0V512M372.5,0V512M486.5,0V512" stroke="#d8ccc6" stroke-width="1" stroke-dasharray="2.6 1.4" fill="none" opacity="0.7"/></g><use href="#overlay"/></g><rect x="942" y="147" width="3" height="515" fill="#111"/><rect x="942" y="660" width="517" height="2.5" fill="#3a3a3a"/><rect x="944" y="147" width="515" height="1" fill="#000"/><rect x="1458" y="147" width="1" height="515" fill="#000"/><path d="M936,654.3H942M939,648.6H942M939,642.9H942M939,637.2H942M936,631.5H942M939,625.8H942M939,620.1H942M939,614.4H942M936,608.7H942M939,603.0H942M939,597.3H942M939,591.5H942M936,585.8H942M939,580.1H942M939,574.4H942M939,568.7H942M936,563.0H942M939,557.3H942M939,551.6H942M939,545.9H942M936,540.2H942M939,534.5H942M939,528.8H942M939,523.1H942M936,517.4H942M939,511.7H942M939,506.0H942M939,500.3H942M936,494.6H942M939,488.9H942M939,483.2H942M939,477.5H942M936,471.8H942M939,466.0H942M939,460.3H942M939,454.6H942M936,448.9H942M939,443.2H942M939,437.5H942M939,431.8H942M936,426.1H942M939,420.4H942M939,414.7H942M939,409.0H942M936,403.3H942M939,397.6H942M939,391.9H942M939,386.2H942M936,380.5H942M939,374.8H942M939,369.1H942M939,363.4H942M936,357.7H942M939,352.0H942M939,346.3H942M939,340.6H942M936,334.8H942M939,329.1H942M939,323.4H942M939,317.7H942M936,312.0H942M939,306.3H942M939,300.6H942M939,294.9H942M936,289.2H942M939,283.5H942M939,277.8H942M939,272.1H942M936,266.4H942M939,260.7H942M939,255.0H942M939,249.3H942M936,243.6H942M939,237.9H942M939,232.2H942M939,226.5H942M936,220.8H942M939,215.1H942M939,209.3H942M939,203.6H942M936,197.9H942M939,192.2H942M939,186.5H942M939,180.8H942M936,175.1H942M939,169.4H942M939,163.7H942M939,158.0H942M936,152.3H942M943.7,662V665M972.4,662V668M1001.1,662V665M1029.8,662V665M1058.5,662V665M1087.2,662V668M1115.8,662V665M1144.5,662V665M1173.2,662V665M1201.9,662V668M1230.6,662V665M1259.3,662V665M1288.0,662V665M1316.7,662V668M1345.3,662V665M1374.0,662V665M1402.7,662V665M1431.4,662V668M1460.1,662V665" stroke="#8c8c8c" stroke-width="1" fill="none"/><text x="933" y="658.3" text-anchor="end">-110</text><text x="933" y="635.5" text-anchor="end">-100</text><text x="933" y="612.7" text-anchor="end">-90</text><text x="933" y="589.8" text-anchor="end">-80</text><text x="933" y="567.0" text-anchor="end">-70</text><text x="933" y="544.2" text-anchor="end">-60</text><text x="933" y="521.4" text-anchor="end">-50</text><text x="933" y="498.6" text-anchor="end">-40</text><text x="933" y="475.8" text-anchor="end">-30</text><text x="933" y="452.9" text-anchor="end">-20</text><text x="933" y="430.1" text-anchor="end">-10</text><text x="933" y="407.3" text-anchor="end">0</text><text x="933" y="384.5" text-anchor="end">10</text><text x="933" y="361.7" text-anchor="end">20</text><text x="933" y="338.8" text-anchor="end">30</text><text x="933" y="316.0" text-anchor="end">40</text><text x="933" y="293.2" text-anchor="end">50</text><text x="933" y="270.4" text-anchor="end">60</text><text x="933" y="247.6" text-anchor="end">70</text><text x="933" y="224.8" text-anchor="end">80</text><text x="933" y="201.9" text-anchor="end">90</text><text x="933" y="179.1" text-anchor="end">100</text><text x="933" y="156.3" text-anchor="end">110</text><text x="972.4" y="679" text-anchor="middle">-100</text><text x="1087.2" y="679" text-anchor="middle">-50</text><text x="1201.9" y="679" text-anchor="middle">0</text><text x="1316.7" y="679" text-anchor="middle">50</text><text x="1431.4" y="679" text-anchor="middle">100</text><text x="1200" y="693" text-anchor="middle">x [mm]</text><text transform="translate(899,403) rotate(-90)" text-anchor="middle">z [mm]</text><text x="1170" y="137" text-anchor="middle" fill="#1a0c8c" letter-spacing="0.3">Transverse / Axial</text><path d="M888.5,696.5V663.5" stroke="#007f00" stroke-width="3" fill="none"/><path d="M883.0,665.5L888.5,655.5L894.0,665.5Z" fill="#007f00"/><path d="M887.0,696.5H921.5" stroke="#0000ff" stroke-width="3" fill="none"/><path d="M919.5,691.0L929.5,696.5L919.5,702.0Z" fill="#0000ff"/></svg>
<svg class="a" style="left:404px;top:119px" width="160" height="196" viewBox="404 119 160 196" font-family="DejaVu Sans, Liberation Sans, sans-serif" font-size="11"><text x="478" y="132" text-anchor="middle" fill="#1a0c8c" letter-spacing="0.4">Sagittal</text><rect x="457" y="143" width="91" height="134" fill="#a9a9a9"/><g transform="translate(459.7,150)"><clipPath id="csag"><rect x="0" y="0" width="85.6" height="121.8"/></clipPath><g clip-path="url(#csag)"><g filter="url(#bl2)"><rect x="-5" y="-5" width="96" height="132" fill="#ec70ec"/><path fill="#d045e9" d="M21.2,0 63,0 63.1,27 63.6,37 64,40.1 66.9,48 68.5,58 68.4,72 67.3,78 65.4,95 65.3,104 65.8,122 18.5,122 19,99.8 18.8,97 17.6,90 17,83.3 15.9,77 15.8,57 16,54 17.4,45 18.3,42 20,38.3 20.9,33Z"/>
<path fill="#b825e4" d="M22.8,0 61.5,0 61.6,26 61.9,36 63,42.4 64.4,48 64.9,53 65.8,58 65.6,72 64.6,78 63.2,95 63.5,122 20.8,122 21.1,98 20.3,91 19.8,84 18.6,77 18.5,57 18.7,54 20.2,44 22,36.1 22.3,33 22.6,25Z"/>
<path fill="#9e0ed6" d="M24.1,0 60.2,0 60.4,11 60.4,24 60.7,32 61.3,37 63.3,47 64.5,58 64.4,72 63.5,79 62.5,95 62.7,122 21.6,122 21.9,100 20.9,85 19.9,76 19.9,57 21.2,43 23.1,34 23.5,30Z"/>
<path fill="#7e08b8" d="M33.5,13 39,12.6 43,12.6 48,13.8 50,14.6 51,15.2 52,16.3 53,18 55.1,23 58,28.8 59,31.2 60,34.6 62.5,45 63.7,57 63.7,72 63,77.4 61.9,95 62.2,122 22.1,122 22.4,99 21.3,83 20.7,78 20.5,74 20.5,56 21.5,44 22.4,39 28,17.7 28.9,16 30,14.7 32,13.5Z"/>
<path fill="#5f029a" d="M33.3,19 34,18.6 39,18 43,18 47,20.2 51,24.1 59,35.3 60,37.3 61.2,41 62.4,47 63.3,58 63.2,72 61.5,96 61.8,122 22.5,122 22.8,100 21.1,75 21.1,55 21.8,45 22.4,41 22.8,39 25.7,31 27.6,27 29.4,24 31.5,21Z"/>
<path fill="#4d009b" d="M37.2,20 39,19.7 43,19.8 46,21.5 49,24.1 52.4,28 59,36.9 60,38.7 61.4,43 62.2,48 62.9,59 62.8,73 61.1,96 61.4,122 22.9,122 23.3,100 22.4,91 22,83 21.5,79 21.4,75 21.4,55 22.3,43 22.9,40 24.7,35 28.2,28 33,21.1 34,20.4Z"/>
<path fill="#4200ac" d="M38,21 43,20.9 47,23.5 50,26.3 54,31.2 59,38 60.1,40 61.4,44 62.6,56 62.7,69 62.5,74 62,78 61.6,86 60.5,97 60.5,105 61,122 23.3,122 23.8,100 22.6,90 21.6,75 21.6,55 22.6,43 23.6,39 25.6,34 28,29.4 31.7,24 33,22.3 34,21.6Z"/>
<path fill="#3700bd" d="M37.2,22 39,21.7 43,21.7 46,23.7 49,26.3 51,28.3 54,32.1 59,38.9 60,40.5 61.1,44 62.4,56 62.5,70 61.3,86 60.3,93 59.8,99 60.6,122 23.7,122 24.5,101 23,90.8 21.9,75 21.9,55 22.8,43 23.5,40 25.5,35 27.6,31 29.6,28 33,23.3 34,22.5Z"/>
<path fill="#2a00cf" d="M35.8,23 39,22.4 43,22.5 47,25.3 50,28 54.1,33 59.3,40 60,41.3 60.9,44 61.4,47 62.2,57 62.1,73 61,86 60.5,89 59,95.2 56.7,101 58,104.3 59,108.4 60.1,122 24.1,122 25,110.6 26,105.8 27.4,103 27.6,102 26,99.7 25,97.7 24,94.8 23.2,90 22.2,79 22.1,55 22.9,44 23.5,41 24.6,38 28,31.1 33,24 34,23.3Z"/>
<path fill="#1800e4" d="M34,24 39,23.1 43,23.1 47,26 51,29.8 59,40.3 60,42 61,45.7 62,56 62,72 60.8,85 60,89.7 59,91.9 58,92.9 57,93.5 54,94.6 47,96.5 27,96.4 26,96.1 25,95.3 24,93 23.8,92 22.4,79 22.3,75 22.3,54 23.3,43 24.9,38 27.9,32 33,24.7ZM31.6,115 52,115 56,115.2 57,115.5 58,116.5 59,119.5 59.3,122 24.9,122 26,117.1 27,115.7 29,115.1Z"/>
<path fill="#0600f8" d="M37.6,24 39,23.7 43,23.8 47,26.7 50,29.4 54,34.2 59,41 60,42.8 60.9,47 61.9,58 61.8,73 60.4,86 60,87.9 59.5,89 59,90 58,90.9 54,92.5 47,94.6 27,94.6 26,94.4 25,93.7 24,91.3 22.5,78 22.4,55 23.4,44 24.1,41 26,36.2 28,32.5 31.8,27 33,25.4 34,24.7Z"/>
<path fill="#003fee" d="M35.7,25 39,24.4 43,24.4 47,27.4 51,31.2 54,34.8 59,41.7 60,43.6 60.5,46 61.7,56 61.7,71 61.6,74 60,86.2 59,88.4 58,89.3 55,90.6 47,93.2 27,93.1 26,92.9 25,92.2 24,89.2 23.6,84 22.8,79 22.6,74 22.6,54 23.8,43 25,39.1 28,33.2 33,26.1 34,25.3Z"/>
<path fill="#008acc" d="M34,26 39,25.1 43,25.1 45.7,27 50,30.8 54,35.5 59,42.4 60.1,45 61.5,56 61.6,70 61.3,75 59.7,85 59,86.9 57.7,88 55,89.1 47,91.8 27,91.7 26,91.5 25,90.6 24.3,88 22.9,79 22.7,75 22.8,54 23.9,44 25,39.8 28,33.8 33,26.8Z"/>
<path fill="#00a89c" d="M37.8,26 39,25.8 43,25.8 47,28.8 51,32.6 54,36.3 59,43.2 60,46 61.4,56 61.4,71 61.1,75 59,85 58,86.2 56.4,87 47,90.2 32,90.3 27,90.2 26,89.8 25,88.5 23,78 22.9,55 24,45 24.9,41 26,38.4 28,34.6 32,28.9 33,27.5 34,26.7Z"/>
<path fill="#009060" d="M36.9,27 39,26.6 43,26.7 47,29.7 51,33.5 56,39.8 59,44.2 60,47.5 61.3,56 61.2,72 60.9,75 59,82.2 58,83.9 57,84.6 47,88.2 31,88.3 27,88.1 26,87.5 25,85.7 24,82.4 23.3,79 23,74 23.1,54 24,46.9 25,41.8 26,39.3 28,35.5 33,28.4 34,27.6Z"/>
<path fill="#008626" d="M37.2,28 39,27.7 43,27.7 47,30.7 51,34.5 56,40.9 59,45.6 60,49.2 60.9,54 61.2,58 61.1,72 60.7,75 60,77.7 59,79.9 58,81.2 57,81.9 47,85.5 31,85.6 27,85.3 26,84.9 25,83.7 24,81.5 23.5,79 23.2,74 23.2,54 23.5,51 25,43.3 26,40.5 28,36.5 33,29.4 34,28.7Z"/>
<path fill="#108800" d="M34.1,30 39,29 43,29.1 46,31.3 50,34.8 55,40.9 57,43.7 59,47.2 60,50.4 60.9,55 61,59 60.9,72 60.7,74 60,76.9 59,78.7 58,79.6 56,80.5 47,83.7 27,83.6 26,83.3 25,82.6 23.8,80 23.4,75 23.3,57 23.4,53 24,49.3 25.3,44 27,39.8 28,37.9 33,30.8Z"/>
<path fill="#40a000" d="M37.2,31 39,30.6 43,30.7 47,33.7 50,36.4 53.9,41 56.8,45 59,48.6 60,51.3 60.8,56 60.8,70 60.5,74 60,76.2 59,77.8 58,78.6 47,82.6 27,82.6 26,82.3 25,81.7 24,79.9 23.7,78 23.5,56 24,50.2 25,46.3 26,43.5 28.3,39 33,32.4 34,31.6Z"/>
<path fill="#70b800" d="M38.6,32 43,32 47,35 50,37.7 53.7,42 59,49.6 60,52.1 60.6,56 60.6,71 60.1,75 59,77 58,77.8 47,81.7 30,81.8 26,81.6 25,81 24,79 23.7,76 23.7,55 23.9,52 24.5,49 25.5,46 27.3,42 33,33.7 34,32.9Z"/>
<path fill="#a0d000" d="M38.5,33 43,32.9 47,36 51.2,40 54.5,44 59,50.4 60,52.9 60.4,56 60.4,70 60,74.6 59,76.4 58,77.1 47,81 30,81.2 26,80.9 25,80.3 24.3,79 24,77.8 23.9,76 23.8,55 24,52.3 24.7,49 26,45.6 27.8,42 33,34.7 34,33.9Z"/>
<path fill="#cfe700" d="M37.5,34 39,33.7 43,33.7 47,36.8 51.4,41 54.6,45 59,51.2 60,53.9 60.2,56 60.2,70 60,73.6 59,75.7 58,76.5 47,80.4 30,80.5 26,80.2 25,79.6 24.7,79 24.2,77 24,75 24,55 24.7,50 26,46.4 27.7,43 33,35.5 34,34.7Z"/>
<path fill="#ffff00" d="M36.3,35 39,34.5 42,34.4 43,34.5 43.7,35 47,37.6 51,41.3 54,45 59,52 59.7,54 60,56 60,71 59.5,74 59,75 58,75.8 49.3,79 46,79.9 28,79.8 26,79.6 25,78.8 24.5,77 24.3,75 24.2,57 24.4,53 25,49.8 26,47.2 28,43.3 33,36.3 34,35.5Z"/>
<path fill="#ffd800" d="M35.2,36 39,35.3 43,35.3 47,38.4 51,42.1 55,47.1 59,52.8 59.6,55 59.8,57 59.7,70 59.5,72 59,74 58,75.1 53.1,77 47,79.1 46,79.2 28,79.1 26,78.8 25,77.7 24.6,74 24.6,57 25,50.9 26,48 28,44.1 33,37 34,36.3Z"/>
<path fill="#ffb200" d="M34.7,37 39,36.2 43,36.2 46.7,39 50,42 54,46.7 58,52.2 59,54.1 59.3,58 59.2,71 59,72.6 58,74.1 56.2,75 53.4,76 47.6,78 46,78.3 28,78.2 27,78.1 26,77.7 25.5,77 25,75.1 24.9,73 24.9,55 25.2,52 26,49.1 28,45.1 33,38 34,37.2Z"/>
<path fill="#ff9000" d="M36.3,38 39,37.5 42,37.5 43,37.6 43.6,38 47,40.6 51,44.4 54,48 58,53.8 58.7,57 58.5,69 58.1,72 57,73.2 52.4,75 47,76.8 46,77 29,76.9 27,76.5 26,75.4 25.7,72 25.6,56 26,51 28,46.5 33,39.3 34,38.5Z"/></g></g></g><path d="M502.0,171.1C502.8,167.5 504.8,167.1 506.8,165.7C508.7,164.2 511.5,163.9 513.5,162.3C515.5,160.7 517.2,157.4 518.9,156.2C520.6,155.0 522.2,154.8 523.6,155.1C525.1,155.5 526.7,156.3 527.7,158.2C528.7,160.2 529.4,163.8 529.7,167.0C530.0,170.3 530.0,174.0 529.5,177.8C528.9,181.7 527.7,186.2 526.4,190.0C525.0,193.8 523.3,198.0 521.6,200.8C519.9,203.6 518.2,206.2 516.2,206.9C514.2,207.6 511.4,206.3 509.5,204.9C507.5,203.4 506.0,201.0 504.7,198.1C503.5,195.2 502.5,191.8 502.0,187.3C501.6,182.8 501.2,174.7 502.0,171.1Z" fill="none" stroke="#1c6a2c" stroke-width="0.9"/><path d="M501.4,186.6C499.7,187.1 496.8,188.3 494.6,191.4C492.3,194.4 489.0,199.9 487.8,204.9C486.7,209.8 486.7,217.6 487.6,221.1C488.5,224.6 490.9,225.0 493.2,225.8C495.5,226.7 498.6,226.8 501.4,226.2C504.1,225.7 506.9,224.0 509.5,222.4C512.0,220.9 515.7,219.3 516.9,217.0C518.1,214.8 517.3,211.2 516.5,208.9C515.7,206.7 513.6,206.0 512.2,203.5C510.8,201.0 509.3,196.5 508.1,194.1C506.9,191.6 505.9,189.9 504.7,188.6C503.6,187.4 503.0,186.2 501.4,186.6Z" fill="none" stroke="#1f4e79" stroke-width="0.9"/><path d="M486.5,221.8C486.3,221.8 490.5,223.3 493.2,226.5C495.9,229.6 500.0,237.5 502.7,240.7C505.4,243.8 507.1,245.2 509.5,245.4C511.8,245.6 515.3,244.1 516.9,242.0C518.5,240.0 519.0,237.3 519.2,233.2C519.4,229.2 519.6,219.6 518.2,217.7C516.8,215.8 513.4,220.3 510.8,221.8C508.2,223.2 505.4,225.7 502.7,226.5C500.0,227.3 497.3,227.3 494.6,226.5C491.9,225.7 486.7,221.8 486.5,221.8Z" fill="none" stroke="#8a4444" stroke-width="0.9"/><path d="M502.5,147V272" stroke="#30c8ff" stroke-width="1.6"/><path d="M502.5,147V272" stroke="#0050ff" stroke-width="1.2" stroke-dasharray="3 2"/><rect x="455.3" y="143" width="2.2" height="135" fill="#333"/><rect x="456.5" y="282.7" width="92.5" height="1.8" fill="#333"/><path d="M453,273.1H455.3M450.5,266.1H455.3M453,259.0H455.3M453,251.9H455.3M453,244.8H455.3M450.5,237.7H455.3M453,230.6H455.3M453,223.6H455.3M453,216.5H455.3M450.5,209.4H455.3M453,202.3H455.3M453,195.2H455.3M453,188.2H455.3M450.5,181.1H455.3M453,174.0H455.3M453,166.9H455.3M453,159.8H455.3M450.5,152.8H455.3M453,145.7H455.3M540.5,284.5V289M531.1,284.5V287M521.7,284.5V287M512.4,284.5V287M503.0,284.5V289M493.6,284.5V287M484.3,284.5V287M474.9,284.5V287M465.6,284.5V289" stroke="#8c8c8c" stroke-width="1" fill="none"/><text x="447" y="156.8" text-anchor="end">100</text><text x="447" y="185.1" text-anchor="end">50</text><text x="447" y="213.4" text-anchor="end">0</text><text x="447" y="241.7" text-anchor="end">-50</text><text x="447" y="270.1" text-anchor="end">-100</text><text x="465" y="301" text-anchor="middle">-100</text><text x="503" y="301" text-anchor="middle">0</text><text x="540.5" y="301" text-anchor="middle">100</text><path d="M412.5,308V276" stroke="#007f00" stroke-width="3" fill="none"/><path d="M407.0,278L412.5,268L418.0,278Z" fill="#007f00"/><path d="M411.0,308H445.5" stroke="#ff0000" stroke-width="3" fill="none"/><path d="M443.5,302.5L453.5,308L443.5,313.5Z" fill="#ff0000"/></svg>
<svg class="a" style="left:404px;top:313.5px" width="160" height="196" viewBox="404 313.5 160 196" font-family="DejaVu Sans, Liberation Sans, sans-serif" font-size="11"><text x="479" y="326.5" text-anchor="middle" fill="#1a0c8c" letter-spacing="0.4">Transverse / Axial</text><rect x="457" y="337.5" width="91" height="134" fill="#a9a9a9"/><g transform="translate(457,337.5)"><clipPath id="ctra"><rect x="0" y="0" width="91" height="134"/></clipPath><g clip-path="url(#ctra)"><rect x="0" y="0" width="91" height="134" fill="#a9a9a9"/><g transform="translate(1.56,1.29) scale(0.1730,0.2570)"><use href="#dosemap"/></g><g transform="translate(4.07,3.51) scale(0.1632,0.2483)" stroke-width="4"><g id="ov2"><ellipse cx="256.9" cy="255.3" rx="252.5" ry="251" fill="none" stroke="#000" stroke-width="4.5"/><path d="M256.9,27.1V483.5" stroke="#000" stroke-width="6" fill="none"/><path d="M27.4,255.3H234.0M277.6,255.3H486.4" stroke="#000" stroke-width="4" fill="none"/><path d="M237.9,167.1C230.8,168.5 219.7,171.1 212.9,174.1C206.2,177.0 202.8,179.4 197.3,185.1C191.8,190.8 183.6,200.0 179.9,208.2C176.3,216.4 176.5,226.4 175.3,234.3C174.0,242.2 172.4,248.5 172.4,255.7C172.4,263.0 173.6,270.7 175.3,277.8C177.0,284.8 179.2,292.1 182.8,298.0C186.5,304.0 192.3,309.6 197.3,313.7C202.3,317.7 206.2,320.9 212.9,322.4C219.7,323.8 231.8,322.9 237.9,322.4C243.9,321.9 246.4,320.1 249.4,319.5C252.5,318.8 253.5,318.0 256.4,318.3C259.3,318.6 260.3,320.5 266.8,321.2C273.4,321.9 288.6,323.3 295.8,322.4C303.0,321.4 305.5,318.5 310.3,315.4C315.1,312.3 320.4,308.7 324.8,303.8C329.1,299.0 333.3,293.2 336.4,286.4C339.4,279.7 342.5,271.0 343.3,263.3C344.1,255.5 342.1,246.9 341.0,240.1C339.8,233.3 337.6,228.5 336.4,222.7C335.1,216.9 335.4,210.2 333.5,205.3C331.5,200.5 329.1,197.8 324.8,193.7C320.4,189.7 313.2,184.7 307.4,181.0C301.6,177.3 295.8,174.1 290.0,171.7C284.2,169.3 278.4,167.5 272.6,166.5C266.8,165.6 261.0,165.8 255.2,165.9C249.4,166.0 244.9,165.7 237.9,167.1Z" fill="none" stroke="#1f4e79" stroke-width="5"/><path d="M258.1,102.8C266.8,102.4 276.5,103.6 284.2,105.7C291.9,107.8 300.0,110.5 304.5,115.5C309.0,120.6 311.4,128.6 311.4,135.8C311.4,143.1 309.0,152.2 304.5,159.0C300.0,165.7 291.5,172.4 284.2,176.4C277.0,180.3 268.8,182.3 261.0,182.7C253.3,183.2 244.6,182.3 237.9,179.3C231.1,176.3 224.5,170.6 220.5,164.8C216.4,159.0 214.0,151.7 213.5,144.5C213.0,137.3 214.5,127.4 217.6,121.3C220.7,115.2 225.3,111.1 232.1,108.0C238.8,104.9 249.4,103.2 258.1,102.8Z" fill="none" stroke="#1c7a1c" stroke-width="5"/><path d="M224.5,328.7C227.0,325.9 235.4,328.2 240.8,327.6C246.1,327.0 251.1,325.4 256.4,325.3C261.7,325.2 267.2,326.6 272.6,327.0C278.0,327.4 286.0,324.7 288.8,327.6C291.7,330.5 290.8,338.7 290.0,344.4C289.2,350.1 287.1,356.7 284.2,361.8C281.3,366.8 277.0,371.6 272.6,374.5C268.3,377.4 263.2,379.1 258.1,379.1C253.1,379.1 246.8,377.4 242.5,374.5C238.2,371.6 234.8,366.8 232.1,361.8C229.4,356.7 227.5,349.9 226.3,344.4C225.0,338.9 222.1,331.5 224.5,328.7Z" fill="none" stroke="#8a4444" stroke-width="5"/></g></g></g></g><rect x="455.3" y="337.5" width="2.2" height="135" fill="#333"/><rect x="456.5" y="477.2" width="92.5" height="1.8" fill="#333"/><path d="M453,468.3H455.3M450.5,461.2H455.3M453,454.2H455.3M453,447.1H455.3M453,440.0H455.3M450.5,432.9H455.3M453,425.8H455.3M453,418.8H455.3M453,411.7H455.3M450.5,404.6H455.3M453,397.5H455.3M453,390.4H455.3M453,383.4H455.3M450.5,376.3H455.3M453,369.2H455.3M453,362.1H455.3M453,355.0H455.3M450.5,348.0H455.3M453,340.9H455.3M540.5,479.0V483.5M531.1,479.0V481.5M521.7,479.0V481.5M512.4,479.0V481.5M503.0,479.0V483.5M493.6,479.0V481.5M484.3,479.0V481.5M474.9,479.0V481.5M465.6,479.0V483.5" stroke="#8c8c8c" stroke-width="1" fill="none"/><text x="447" y="352.0" text-anchor="end">100</text><text x="447" y="380.3" text-anchor="end">50</text><text x="447" y="408.6" text-anchor="end">0</text><text x="447" y="436.9" text-anchor="end">-50</text><text x="447" y="465.2" text-anchor="end">-100</text><text x="465" y="495.5" text-anchor="middle">-100</text><text x="503" y="495.5" text-anchor="middle">0</text><text x="540.5" y="495.5" text-anchor="middle">100</text><path d="M412.5,502.5V470.5" stroke="#007f00" stroke-width="3" fill="none"/><path d="M407.0,472.5L412.5,462.5L418.0,472.5Z" fill="#007f00"/><path d="M411.0,502.5H445.5" stroke="#0000ff" stroke-width="3" fill="none"/><path d="M443.5,497.0L453.5,502.5L443.5,508.0Z" fill="#0000ff"/></svg>
<svg class="a" style="left:404px;top:508px" width="160" height="196" viewBox="404 508 160 196" font-family="DejaVu Sans, Liberation Sans, sans-serif" font-size="11"><text x="479" y="521" text-anchor="middle" fill="#1a0c8c" letter-spacing="0.4">Coronal</text><rect x="457" y="532" width="91" height="134" fill="#a9a9a9"/><g transform="translate(461,537.8)"><clipPath id="ccor"><rect x="0" y="0" width="83.8" height="124.2"/></clipPath><g clip-path="url(#ccor)"><g filter="url(#bl2)"><rect x="-5" y="-5" width="96" height="136" fill="#ec70ec"/><path fill="#d045e9" d="M38.4,14 42,13.2 55,16.4 61,19.4 66.8,23 70,24.6 74,25.8 84,27.9 84,93.8 74,95.9 71,96.7 68,98 61,102.4 55,105.3 42,108.5 30,105.7 28,105.1 23,102.6 17,98.8 13,96.9 10,96 0,93.9 0,27.9 9,26 13,24.9 16.8,23 22,19.7 28,16.6Z"/>
<path fill="#b825e4" d="M41.6,19 42,18.9 55,22.1 61,25.3 68,30 71,31.4 74,32.2 84,34.3 84,87.5 74,89.6 71,90.4 67.6,92 61,96.4 55,99.6 42,102.8 31,100.3 28,99.4 22,96 16,92 13,90.5 10,89.6 0,87.6 0,34.2 10,32.1 13,31.2 16,29.7 22,25.7 28,22.4 31,21.4Z"/>
<path fill="#9e0ed6" d="M38.3,23 42,22.2 55,25.4 61,28.6 66,32 69.7,34 73,35.1 84,37.4 84,84.3 71,87.3 67.2,89 61,93.1 55,96.3 42,99.6 32,97.3 28,96.1 22,92.7 16.4,89 13,87.4 8,86.1 0,84.4 0,37.3 10.9,35 13.9,34 17.6,32 22,29 28,25.6 31,24.7Z"/>
<path fill="#7e08b8" d="M39.2,25 42,24.4 54,27.3 56,28.1 61,30.8 66,34 70,35.9 73.8,37 84,39.2 84,82.5 72.7,85 69.5,86 65.5,88 61,90.9 55,94.1 42,97.3 31,94.8 28,93.9 22,90.6 18.1,88 14,86 10.9,85 0,82.6 0,39.1 9.8,37 13.4,36 17.6,34 22,31.2 28,27.9 30,27.2Z"/>
<path fill="#5f029a" d="M37.7,27 42,26.1 54,29 56,29.7 65.5,35 70,37 73.7,38 84,40.3 84,81.5 72.6,84 69.4,85 65,87 61,89.4 55,92.5 42,95.7 29,92.6 23,89.6 18.6,87 14,84.9 11,84 0,81.6 0,40.2 10,38 13.5,37 18.1,35 28,29.5 31,28.6Z"/>
<path fill="#4d009b" d="M38.8,28 42,27.3 54,30.2 56,31 65.8,36 69,37.3 74.8,39 84,41 84,80.7 70.1,84 65.3,86 55,91.2 42,94.4 29,91.4 18.3,86 13.5,84 0,80.8 0,40.9 13,37.9 17.8,36 28,30.8Z"/>
<path fill="#4200ac" d="M38.7,29 42,28.3 54,31.2 56,31.9 64.5,36 70,38.3 73,39.2 84,41.6 84,80.1 71,83.1 66.1,85 55,90.3 42,93.5 29,90.4 17.5,85 12.3,83 0,80.2 0,41.5 13,38.5 16.9,37 28,31.7Z"/>
<path fill="#3700bd" d="M37.6,30 42,29 53,31.6 56,32.6 68,38.1 71,39.2 84,42.2 84,79.5 71,82.5 67.2,84 55,89.5 42,92.7 29,89.7 13,82.6 0,79.6 0,42.1 13,39.1 18,37 28,32.4Z"/>
<path fill="#2a00cf" d="M40,30 42,29.6 54,32.5 61,35.3 70,39.5 73,40.4 84,42.8 84,79 72,81.6 69,82.7 61,86.5 56,88.6 53,89.5 42,92.1 28,88.8 22,86.2 15,82.8 12,81.7 0,79.1 0,42.7 10,40.6 13,39.7 22,35.5 29,32.6Z"/>
<path fill="#1800e4" d="M37.8,31 42,30.1 53,32.7 56,33.6 61,35.7 71,40.6 74,41.4 84,43.5 84,78.3 72,80.8 70,81.5 62,85.6 55,88.5 42,91.7 28,88.3 22,85.8 14,81.7 11,80.6 0,78.4 0,43.4 12,40.8 15,39.5 22,35.9 28,33.4Z"/>
<path fill="#0600f8" d="M39.4,31 42,30.4 55,33.6 62,36.5 72,42.2 74,42.7 84,44.4 84,77.4 72,79.5 62,85.2 56,87.8 42,91.3 30,88.5 27,87.5 21.2,85 17.5,83 13,80.2 11,79.3 0,77.4 0,44.3 11,42.4 13,41.5 17,39 21,36.8 27,34.2 29,33.5Z"/>
<path fill="#003fee" d="M40.8,31 42,30.8 56,34.3 62,36.9 67,40 69,42 69.6,43 70.3,45 70.8,48 71,55 71.1,65 70.8,74 70.3,77 69.5,79 68.8,80 66.7,82 63.6,84 61,85.3 56,87.4 42,90.9 28,87.6 22,85.1 16.9,82 14.8,80 13.3,77 12.8,73 12.5,67 12.5,56 12.7,49 13.3,45 14.6,42 16.6,40 19.6,38 22,36.7 27,34.6 30,33.6ZM0,47 0,46.4 2,46.4 4,47 5,48 5.8,50 6.4,54 6.6,64 6,71 5.4,73 4.8,74 3.5,75 2,75.3 0,75.3ZM79.6,47 82,46.4 84,46.5 84,75.3 81,75.2 80.1,75 79,74.2 78.2,73 77.5,70 77,62 77.3,53 78.1,49 78.6,48Z"/>
<path fill="#008acc" d="M37.9,32 42,31.1 55,34.3 61,36.7 64.7,39 66.8,41 67.7,43 68.1,46 68.3,56 68.2,73 67.9,78 67.3,80 65.6,82 62.8,84 56,87.1 42,90.6 29,87.6 23,85.2 21,84.1 19.2,83 17,81 15.9,79 15.5,76 15.3,67 15.3,49 15.7,44 16.2,42 17.7,40 20.3,38 22.1,37 28,34.5Z"/>
<path fill="#00a89c" d="M39.1,32 42,31.4 55,34.6 60.8,37 63.9,39 65.6,41 66.3,43 66.6,46 66.7,75 66.3,79 65.5,81 63.6,83 62.2,84 56,86.8 42,90.4 29,87.3 21.4,84 20,83 18.1,81 17.3,79 17,76 16.9,48 17.3,43 18,41 18.7,40 21,38 27,35.2 29,34.4Z"/>
<path fill="#009060" d="M40.2,32 42,31.6 54,34.5 56,35.2 61.9,38 63.2,39 64.6,41 65.1,43 65.4,47 65.4,75 65.1,79 64.5,81 62.9,83 61.5,84 56,86.5 42,90.1 29,87 22.1,84 20.7,83 19.1,81 18.5,79 18.2,75 18.2,47 18.5,43 19,41 20.4,39 21.7,38 27,35.5 30,34.4Z"/>
<path fill="#008626" d="M41.5,32 42,31.9 54.6,35 61.2,38 62.4,39 63.7,41 64.2,44 64.4,50 64.3,76 63.9,80 63,82 62.2,83 60.7,84 56,86.3 53,87.2 42,89.8 28,86.4 22.9,84 21.4,83 20.6,82 19.7,80 19.4,77 19.2,72 19.3,46 19.6,42 20.4,40 21.2,39 22.4,38 28,35.3Z"/>
<path fill="#108800" d="M38.2,33 42,32.2 53,34.8 56,35.8 60.4,38 61.7,39 62.9,41 63.3,44 63.4,74 63.2,79 62.8,81 62.3,82 61.4,83 56,86 52.6,87 42,89.5 29,86.5 23.7,84 22.2,83 21.3,82 20.5,80 20.3,78 20.2,49 20.3,44 20.7,41 21.2,40 22,38.9 23.2,38 27.1,36 30,35Z"/>
<path fill="#40a000" d="M39.3,33 42,32.5 52.6,35 56,36 59.5,38 61,39.1 62.1,41 62.5,44 62.6,74 62.4,79 62,81 61.5,82 60.6,83 57.3,85 55.2,86 42,89.3 29,86.2 26.3,85 23,83 22.1,82 21.4,80 21.1,77 21,46 21.3,42 21.9,40 22.7,39 24.1,38 28,35.9Z"/>
<path fill="#70b800" d="M40.5,33 42,32.8 51.5,35 55,35.9 57.1,37 59.9,39 60.7,40 61.4,42 61.7,46 61.7,74 61.5,79 61.1,81 60.6,82 59.6,83 56,85.4 54,86.1 42,89 29.2,86 26.9,85 24,83 23,82 22.2,80 21.9,76 21.9,46 22.2,42 22.9,40 23.7,39 25,38 28.4,36Z"/>
<path fill="#a0d000" d="M37.6,34 42,33 55,36.3 56.5,37 57.8,38 59.6,40 60.4,42 60.6,44 60.8,53 60.8,73 60.6,78 60,81 58.6,83 56,85 53.3,86 42,88.7 30.3,86 27.5,85 26.1,84 24.1,82 23.3,80 23,78 22.8,49 23,43.7 23.5,41 24.8,39 27,37.1 28,36.5 29.4,36Z"/>
<path fill="#cfe700" d="M39,34 42,33.4 53,36 55.8,37 57.1,38 58.5,40 59.1,42 59.4,45 59.5,73 59.3,78 58.8,81 57.8,83 56.9,84 55.3,85 52,86 42,88.3 31.7,86 28,84.8 26.7,84 25.2,82 24.5,80 24.2,77 24.1,49 24.2,44 24.7,41 25.6,39 26.5,38 28,36.9 30.6,36Z"/>
<path fill="#ffff00" d="M40.7,34 42,33.8 51.4,36 55,37 56,37.6 57.2,39 57.6,40 58.1,43 58.3,47 58.3,75 58.1,79 57.6,82 57,83 56.2,84 54.2,85 42,87.9 29.4,85 27.5,84 26.6,83 25.8,81 25.3,76 25.3,47 25.5,42 26,40 27.1,38 28.7,37Z"/>
<path fill="#ffd800" d="M38.6,35 42,34.3 54,37.2 55.6,38 56.5,39 57.1,41 57.3,43 57.4,74 57.3,79 56.8,82 56,83.4 55.3,84 54,84.5 42,87.4 31.1,85 28.3,84 27.3,83 26.8,82 26.3,79 26.2,49 26.3,43 26.7,40 27.1,39 27.9,38 29,37.4 30.1,37Z"/>
<path fill="#ffb200" d="M37.5,36 42,35 54,37.9 55.5,39 56.1,40 56.4,42 56.7,50 56.6,73 56.5,79 56,82 55,83.3 53.6,84 42,86.6 30,84 29,83.5 28.3,83 27.7,82 27.1,79 26.9,51 27,44 27.3,41 28,39 29.3,38Z"/>
<path fill="#ff9000" d="M39.7,37 42,36.6 53.4,39 54,39.3 55,40.5 55.6,45 55.7,72 55.5,78 55.1,81 54,82.4 52.6,83 42,85.1 31,83 30,82.6 29,81.9 28.6,81 28,78 27.9,48 28,43.8 28.5,41 29,39.8 30.2,39Z"/></g></g></g><path d="M502.8,577.9C499.9,578.1 495.7,578.1 493.4,579.1C491.2,580.0 490.1,581.0 489.3,583.6C488.5,586.2 488.6,591.2 488.6,594.9C488.5,598.7 488.7,603.0 488.9,606.3C489.2,609.6 489.3,612.1 490.1,614.8C490.8,617.4 491.3,620.6 493.4,622.1C495.6,623.6 499.9,623.7 502.8,623.8C505.7,623.9 509.2,624.2 511.0,622.7C512.9,621.2 513.3,618.0 514.0,614.8C514.8,611.6 515.2,607.2 515.5,603.4C515.9,599.7 516.2,595.6 516.3,592.1C516.3,588.6 516.8,584.8 515.9,582.5C515.0,580.1 513.2,578.7 511.0,577.9C508.9,577.2 505.7,577.8 502.8,577.9Z" fill="none" stroke="#1f4e79" stroke-width="0.9"/><path d="M460,599.4H546" stroke="#30c8ff" stroke-width="1.6"/><path d="M460,599.4H546" stroke="#0050ff" stroke-width="1.2" stroke-dasharray="3 2"/><rect x="455.3" y="532" width="2.2" height="135" fill="#333"/><rect x="456.5" y="671.7" width="92.5" height="1.8" fill="#333"/><path d="M453,663.9H455.3M450.5,656.9H455.3M453,649.8H455.3M453,642.7H455.3M453,635.6H455.3M450.5,628.5H455.3M453,621.4H455.3M453,614.4H455.3M453,607.3H455.3M450.5,600.2H455.3M453,593.1H455.3M453,586.0H455.3M453,579.0H455.3M450.5,571.9H455.3M453,564.8H455.3M453,557.7H455.3M453,550.6H455.3M450.5,543.6H455.3M453,536.5H455.3M540.5,673.5V678M531.1,673.5V676M521.7,673.5V676M512.4,673.5V676M503.0,673.5V678M493.6,673.5V676M484.3,673.5V676M474.9,673.5V676M465.6,673.5V678" stroke="#8c8c8c" stroke-width="1" fill="none"/><text x="447" y="547.6" text-anchor="end">100</text><text x="447" y="575.9" text-anchor="end">50</text><text x="447" y="604.2" text-anchor="end">0</text><text x="447" y="632.5" text-anchor="end">-50</text><text x="447" y="660.9" text-anchor="end">-100</text><text x="465" y="690" text-anchor="middle">-100</text><text x="503" y="690" text-anchor="middle">0</text><text x="540.5" y="690" text-anchor="middle">100</text><path d="M412.5,697V665" stroke="#ff0000" stroke-width="3" fill="none"/><path d="M407.0,667L412.5,657L418.0,667Z" fill="#ff0000"/><path d="M411.0,697H445.5" stroke="#0000ff" stroke-width="3" fill="none"/><path d="M443.5,691.5L453.5,697L443.5,702.5Z" fill="#0000ff"/></svg>
<div class="a" style="left:402px;top:706px;width:1396px;height:280px;background:#fcfcfc"></div>
<div class="a" style="left:402px;top:732px;width:1393px;height:254px;border:1px solid #dcdcdc;background:#fdfdfd"></div>
<div class="a" style="left:406px;top:736px;width:1387px;height:246px;background:linear-gradient(#fcfcfc,#f5f5f5 50%,#eeeeee)"></div>
<div class="tab" style="left:447px;top:713px;width:57px;height:20px"></div><div class="t ms nr" style="left:452px;top:717px">Structures</div>
<div class="tab sel" style="left:402px;top:711px;width:46px;height:22px;background:#fcfcfc"></div><div class="t ms nr" style="left:410px;top:715px">DVH</div>
<svg class="a" style="left:430px;top:736px" width="1340" height="240" viewBox="430 736 1340 240" font-family="DejaVu Sans, Liberation Sans, sans-serif" font-size="11"><defs><linearGradient id="pg" x1="0" y1="0" x2="0" y2="1"><stop offset="0" stop-color="#e9e9e9"/><stop offset="1" stop-color="#d2d2d2"/></linearGradient></defs><rect x="498" y="744" width="1072" height="193" fill="url(#pg)"/><path d="M542.5,746V935M583.5,746V935M624.5,746V935M665.5,746V935M706.5,746V935M747.5,746V935M788.5,746V935M829.5,746V935M870.5,746V935M911.5,746V935M952.5,746V935M993.5,746V935M1034.5,746V935M1075.5,746V935M1116.5,746V935M1157.5,746V935M1198.5,746V935M1239.5,746V935M1280.5,746V935M1321.5,746V935M1362.5,746V935M1403.5,746V935M1444.5,746V935M1485.5,746V935M1527.5,746V935M1568.5,746V935M500,933.5H1569M500,914.5H1569M500,895.5H1569M500,877.5H1569M500,858.5H1569M500,840.5H1569M500,821.5H1569M500,803.5H1569M500,784.5H1569M500,765.5H1569M500,747.5H1569" stroke="#9a9a9a" stroke-width="1" stroke-dasharray="3 2" opacity="0.85" fill="none"/><rect x="498" y="744" width="2" height="194" fill="#222"/><rect x="498" y="744" width="1072" height="2" fill="#222"/><rect x="1569" y="744" width="1" height="194" fill="#000"/><rect x="498" y="935.5" width="1072" height="2.5" fill="#444"/><path d="M492,933.1H498M495,928.5H498M495,923.8H498M495,919.2H498M492,914.5H498M495,909.9H498M495,905.2H498M495,900.6H498M492,895.9H498M495,891.3H498M495,886.6H498M495,882.0H498M492,877.4H498M495,872.7H498M495,868.1H498M495,863.4H498M492,858.8H498M495,854.1H498M495,849.5H498M495,844.8H498M492,840.2H498M495,835.6H498M495,830.9H498M495,826.3H498M492,821.6H498M495,817.0H498M495,812.3H498M495,807.7H498M492,803.0H498M495,798.4H498M495,793.8H498M495,789.1H498M492,784.5H498M495,779.8H498M495,775.2H498M495,770.5H498M492,765.9H498M495,761.2H498M495,756.6H498M495,751.9H498M492,747.3H498M501.5,938V944M511.5,938V941M521.5,938V941M531.5,938V941M542.5,938V944M552.5,938V941M562.5,938V941M572.5,938V941M583.5,938V944M593.5,938V941M603.5,938V941M613.5,938V941M624.5,938V944M634.5,938V941M644.5,938V941M654.5,938V941M665.5,938V944M675.5,938V941M685.5,938V941M695.5,938V941M706.5,938V944M716.5,938V941M726.5,938V941M736.5,938V941M747.5,938V944M757.5,938V941M767.5,938V941M778.5,938V941M788.5,938V944M798.5,938V941M808.5,938V941M819.5,938V941M829.5,938V944M839.5,938V941M849.5,938V941M860.5,938V941M870.5,938V944M880.5,938V941M890.5,938V941M901.5,938V941M911.5,938V944M921.5,938V941M931.5,938V941M942.5,938V941M952.5,938V944M962.5,938V941M972.5,938V941M983.5,938V941M993.5,938V944M1003.5,938V941M1014.5,938V941M1024.5,938V941M1034.5,938V944M1044.5,938V941M1055.5,938V941M1065.5,938V941M1075.5,938V944M1085.5,938V941M1096.5,938V941M1106.5,938V941M1116.5,938V944M1126.5,938V941M1137.5,938V941M1147.5,938V941M1157.5,938V944M1167.5,938V941M1178.5,938V941M1188.5,938V941M1198.5,938V944M1208.5,938V941M1219.5,938V941M1229.5,938V941M1239.5,938V944M1249.5,938V941M1260.5,938V941M1270.5,938V941M1280.5,938V944M1291.5,938V941M1301.5,938V941M1311.5,938V941M1321.5,938V944M1332.5,938V941M1342.5,938V941M1352.5,938V941M1362.5,938V944M1373.5,938V941M1383.5,938V941M1393.5,938V941M1403.5,938V944M1414.5,938V941M1424.5,938V941M1434.5,938V941M1444.5,938V944M1455.5,938V941M1465.5,938V941M1475.5,938V941M1485.5,938V944M1496.5,938V941M1506.5,938V941M1516.5,938V941M1527.5,938V944M1537.5,938V941M1547.5,938V941M1557.5,938V941M1568.5,938V944" stroke="#8c8c8c" stroke-width="1" fill="none"/><text x="488" y="937.1" text-anchor="end">0</text><text x="488" y="918.5" text-anchor="end">10</text><text x="488" y="899.9" text-anchor="end">20</text><text x="488" y="881.4" text-anchor="end">30</text><text x="488" y="862.8" text-anchor="end">40</text><text x="488" y="844.2" text-anchor="end">50</text><text x="488" y="825.6" text-anchor="end">60</text><text x="488" y="807.0" text-anchor="end">70</text><text x="488" y="788.5" text-anchor="end">80</text><text x="488" y="769.9" text-anchor="end">90</text><text x="488" y="751.3" text-anchor="end">100</text><text x="501.5" y="954" text-anchor="middle">0,0</text><text x="542.5" y="954" text-anchor="middle">0,1</text><text x="583.6" y="954" text-anchor="middle">0,2</text><text x="624.6" y="954" text-anchor="middle">0,3</text><text x="665.7" y="954" text-anchor="middle">0,4</text><text x="706.7" y="954" text-anchor="middle">0,5</text><text x="747.7" y="954" text-anchor="middle">0,6</text><text x="788.8" y="954" text-anchor="middle">0,7</text><text x="829.8" y="954" text-anchor="middle">0,8</text><text x="870.9" y="954" text-anchor="middle">0,9</text><text x="911.9" y="954" text-anchor="middle">1,0</text><text x="952.9" y="954" text-anchor="middle">1,1</text><text x="994.0" y="954" text-anchor="middle">1,2</text><text x="1035.0" y="954" text-anchor="middle">1,3</text><text x="1076.1" y="954" text-anchor="middle">1,4</text><text x="1117.1" y="954" text-anchor="middle">1,5</text><text x="1158.1" y="954" text-anchor="middle">1,6</text><text x="1199.2" y="954" text-anchor="middle">1,7</text><text x="1240.2" y="954" text-anchor="middle">1,8</text><text x="1281.3" y="954" text-anchor="middle">1,9</text><text x="1322.3" y="954" text-anchor="middle">2,0</text><text x="1363.3" y="954" text-anchor="middle">2,1</text><text x="1404.4" y="954" text-anchor="middle">2,2</text><text x="1445.4" y="954" text-anchor="middle">2,3</text><text x="1486.5" y="954" text-anchor="middle">2,4</text><text x="1527.5" y="954" text-anchor="middle">2,5</text><text x="1568.5" y="954" text-anchor="middle">2,6</text><text x="1034" y="968" text-anchor="middle" letter-spacing="0.3">Dose [Gy]</text><text transform="translate(459,840) rotate(-90)" text-anchor="middle" letter-spacing="0.3">Volume [%]</text><path d="M501.0,747.3 L1362.8,747.3 L1383.4,748.8 L1403.9,755.1 L1406.3,758.4 L1410.9,764.4 L1414.1,771.5 L1418.2,779.4 L1421.1,790.0 L1425.2,804.5 L1429.3,819.4 L1432.2,835.0 L1436.3,850.4 L1439.6,862.9 L1443.3,875.5 L1446.2,888.5 L1449.8,900.4 L1453.1,911.2 L1460.5,920.7 L1463.8,925.9 L1467.1,930.7 L1470.4,933.1 L1568.0,933.1" fill="none" stroke="#1f4e79" stroke-width="1"/><path d="M501.0,747.3h0M505.1,747.3h0M509.2,747.3h0M513.3,747.3h0M517.4,747.3h0M521.5,747.3h0M525.6,747.3h0M529.7,747.3h0M533.8,747.3h0M537.9,747.3h0M542.0,747.3h0M546.1,747.3h0M550.2,747.3h0M554.4,747.3h0M558.5,747.3h0M562.6,747.3h0M566.7,747.3h0M570.8,747.3h0M574.9,747.3h0M579.0,747.3h0M583.1,747.3h0M587.2,747.3h0M591.3,747.3h0M595.4,747.3h0M599.5,747.3h0M603.6,747.3h0M607.7,747.3h0M611.8,747.3h0M615.9,747.3h0M620.0,747.3h0M624.1,747.3h0M628.2,747.3h0M632.3,747.3h0M636.4,747.3h0M640.5,747.3h0M644.6,747.3h0M648.7,747.3h0M652.8,747.3h0M657.0,747.3h0M661.1,747.3h0M665.2,747.3h0M669.3,747.3h0M673.4,747.3h0M677.5,747.3h0M681.6,747.3h0M685.7,747.3h0M689.8,747.3h0M693.9,747.3h0M698.0,747.3h0M702.1,747.3h0M706.2,747.3h0M710.3,747.3h0M714.4,747.3h0M718.5,747.3h0M722.6,747.3h0M726.7,747.3h0M730.8,747.3h0M734.9,747.3h0M739.0,747.3h0M743.1,747.3h0M747.2,747.3h0M751.3,747.3h0M755.4,747.3h0M759.6,747.3h0M763.7,747.3h0M767.8,747.3h0M771.9,747.3h0M776.0,747.3h0M780.1,747.3h0M784.2,747.3h0M788.3,747.3h0M792.4,747.3h0M796.5,747.3h0M800.6,747.3h0M804.7,747.3h0M808.8,747.3h0M812.9,747.3h0M817.0,747.3h0M821.1,747.3h0M825.2,747.3h0M829.3,747.3h0M833.4,747.3h0M837.5,747.3h0M841.6,747.3h0M845.7,747.3h0M849.8,747.3h0M853.9,747.3h0M858.0,747.3h0M862.2,747.3h0M866.3,747.3h0M870.4,747.3h0M874.5,747.3h0M878.6,747.3h0M882.7,747.3h0M886.8,747.3h0M890.9,747.3h0M895.0,747.3h0M899.1,747.3h0M903.2,747.3h0M907.3,747.3h0M911.4,747.3h0M915.5,747.3h0M919.6,747.3h0M923.7,747.3h0M927.8,747.3h0M931.9,747.3h0M936.0,747.3h0M940.1,747.3h0M944.2,747.3h0M948.3,747.3h0M952.4,747.3h0M956.5,747.3h0M960.6,747.3h0M964.8,747.3h0M968.9,747.3h0M973.0,747.3h0M977.1,747.3h0M981.2,747.3h0M985.3,747.3h0M989.4,747.3h0M993.5,747.3h0M997.6,747.3h0M1001.7,747.3h0M1005.8,747.3h0M1009.9,747.3h0M1014.0,747.3h0M1018.1,747.3h0M1022.2,747.3h0M1026.3,747.3h0M1030.4,747.3h0M1034.5,747.3h0M1038.6,747.3h0M1042.7,747.3h0M1046.8,747.3h0M1050.9,747.3h0M1055.0,747.3h0M1059.1,747.3h0M1063.2,747.3h0M1067.4,747.3h0M1071.5,747.3h0M1075.6,747.3h0M1079.7,747.3h0M1083.8,747.3h0M1087.9,747.3h0M1092.0,747.3h0M1096.1,747.3h0M1100.2,747.3h0M1104.3,747.3h0M1108.4,747.3h0M1112.5,747.3h0M1116.6,747.3h0M1120.7,747.3h0M1124.8,747.3h0M1128.9,747.3h0M1133.0,747.3h0M1137.1,747.3h0M1141.2,747.3h0M1145.3,747.3h0M1149.4,747.3h0M1153.5,747.3h0M1157.6,747.3h0M1161.7,747.3h0M1165.8,747.3h0M1170.0,747.3h0M1174.1,747.3h0M1178.2,747.3h0M1182.3,747.3h0M1186.4,747.3h0M1190.5,747.3h0M1194.6,747.3h0M1198.7,747.3h0M1202.8,747.3h0M1206.9,747.3h0M1211.0,747.3h0M1215.1,747.3h0M1219.2,747.3h0M1223.3,747.3h0M1227.4,747.3h0M1231.5,747.3h0M1235.6,747.3h0M1239.7,747.3h0M1243.8,747.3h0M1247.9,747.3h0M1252.0,747.3h0M1256.1,747.3h0M1260.2,747.3h0M1264.3,747.3h0M1268.4,747.3h0M1272.6,747.3h0M1276.7,747.3h0M1280.8,747.3h0M1284.9,747.3h0M1289.0,747.3h0M1293.1,747.3h0M1297.2,747.3h0M1301.3,747.3h0M1305.4,747.3h0M1309.5,747.3h0M1313.6,747.3h0M1317.7,747.3h0M1321.8,747.3h0M1325.9,747.3h0M1330.0,747.3h0M1334.1,747.3h0M1338.2,747.3h0M1342.3,747.3h0M1346.4,747.3h0M1350.5,747.3h0M1354.6,747.3h0M1358.7,747.3h0M1362.8,747.3h0M1366.9,747.6h0M1371.0,747.9h0M1375.2,748.2h0M1379.3,748.5h0M1383.4,748.8h0M1387.5,750.0h0M1391.6,751.3h0M1395.7,752.6h0M1399.8,753.8h0M1403.9,755.1h0M1408.0,757.5h0M1412.1,761.7h0M1416.2,768.8h0M1420.3,777.0h0M1424.4,790.0h0M1428.5,804.5h0M1432.6,819.4h0M1436.7,839.6h0M1440.8,855.1h0M1444.9,869.9h0M1449.0,886.7h0M1453.1,900.4h0M1457.2,913.1h0M1461.3,922.0h0M1465.4,928.3h0M1469.5,932.5h0M1473.6,933.1h0M1477.8,933.1h0M1481.9,933.1h0M1486.0,933.1h0M1490.1,933.1h0M1494.2,933.1h0M1498.3,933.1h0M1502.4,933.1h0M1506.5,933.1h0M1510.6,933.1h0M1514.7,933.1h0M1518.8,933.1h0M1522.9,933.1h0M1527.0,933.1h0M1531.1,933.1h0M1535.2,933.1h0M1539.3,933.1h0M1543.4,933.1h0M1547.5,933.1h0M1551.6,933.1h0M1555.7,933.1h0M1559.8,933.1h0M1563.9,933.1h0M1568.0,933.1h0" fill="none" stroke="#1f4e79" stroke-width="3.8" stroke-linecap="round"/><path d="M501.0,747.3 L529.7,747.3 L533.8,751.9 L542.0,760.7 L550.2,765.9 L562.6,771.5 L583.1,777.0 L603.6,784.3 L624.1,792.1 L644.6,801.0 L657.0,806.6 L665.2,809.4 L685.7,814.0 L706.2,817.2 L747.2,822.4 L788.3,827.8 L829.3,833.3 L870.4,839.6 L911.4,847.6 L931.9,852.1 L952.4,859.9 L973.0,871.8 L993.5,877.9 L1034.5,885.7 L1075.6,892.6 L1116.6,897.2 L1157.6,901.3 L1198.7,905.0 L1239.7,908.8 L1280.8,912.1 L1321.8,915.3 L1362.8,919.9 L1403.9,924.9 L1424.4,929.9 L1436.7,933.1 L1535.2,933.1" fill="none" stroke="#108010" stroke-width="1"/><path d="M501.0,747.3h0M505.1,747.3h0M509.2,747.3h0M513.3,747.3h0M517.4,747.3h0M521.5,747.3h0M525.6,747.3h0M529.7,747.3h0M533.8,751.9h0M537.9,756.3h0M542.0,760.7h0M546.1,763.3h0M550.2,765.9h0M554.4,767.7h0M558.5,769.6h0M562.6,771.5h0M566.7,773.2h0M570.8,774.9h0M574.9,776.6h0M579.0,778.3h0M583.1,780.0h0M587.2,781.5h0M591.3,782.9h0M595.4,784.3h0M599.5,785.8h0M603.6,787.2h0M607.7,788.8h0M611.8,790.4h0M615.9,791.9h0M620.0,793.5h0M624.1,795.1h0M628.2,796.8h0M632.3,798.6h0M636.4,800.4h0M640.5,802.2h0M644.6,804.0h0M648.7,805.8h0M652.8,807.7h0M657.0,809.5h0M661.1,810.9h0M665.2,812.3h0M669.3,813.3h0M673.4,814.2h0M677.5,815.1h0M681.6,816.0h0M685.7,817.0h0M689.8,817.6h0M693.9,818.2h0M698.0,818.9h0M702.1,819.5h0M706.2,820.1h0M710.3,820.7h0M714.4,821.2h0M718.5,821.7h0M722.6,822.2h0M726.7,822.7h0M730.8,823.3h0M734.9,823.8h0M739.0,824.3h0M743.1,824.8h0M747.2,825.3h0M751.3,825.9h0M755.4,826.4h0M759.6,827.0h0M763.7,827.5h0M767.8,828.0h0M771.9,828.6h0M776.0,829.1h0M780.1,829.6h0M784.2,830.2h0M788.3,830.7h0M792.4,831.3h0M796.5,831.8h0M800.6,832.4h0M804.7,833.0h0M808.8,833.5h0M812.9,834.1h0M817.0,834.6h0M821.1,835.2h0M825.2,835.7h0M829.3,836.3h0M833.4,836.9h0M837.5,837.6h0M841.6,838.2h0M845.7,838.8h0M849.8,839.5h0M853.9,840.1h0M858.0,840.7h0M862.2,841.4h0M866.3,842.0h0M870.4,842.6h0M874.5,843.4h0M878.6,844.2h0M882.7,845.0h0M886.8,845.8h0M890.9,846.6h0M895.0,847.4h0M899.1,848.2h0M903.2,849.0h0M907.3,849.8h0M911.4,850.6h0M915.5,851.5h0M919.6,852.4h0M923.7,853.3h0M927.8,854.2h0M931.9,855.1h0M936.0,856.6h0M940.1,858.2h0M944.2,859.7h0M948.3,861.3h0M952.4,862.9h0M956.5,864.7h0M960.6,866.4h0M964.8,868.2h0M968.9,870.0h0M973.0,871.8h0M977.1,873.0h0M981.2,874.2h0M985.3,875.5h0M989.4,876.7h0M993.5,877.9h0M997.6,878.7h0M1001.7,879.5h0M1005.8,880.3h0M1009.9,881.0h0M1014.0,881.8h0M1018.1,882.6h0M1022.2,883.4h0M1026.3,884.2h0M1030.4,884.9h0M1034.5,885.7h0M1038.6,886.4h0M1042.7,887.1h0M1046.8,887.8h0M1050.9,888.5h0M1055.0,889.2h0M1059.1,889.8h0M1063.2,890.5h0M1067.4,891.2h0M1071.5,891.9h0M1075.6,892.6h0M1079.7,893.1h0M1083.8,893.5h0M1087.9,894.0h0M1092.0,894.5h0M1096.1,894.9h0M1100.2,895.4h0M1104.3,895.8h0M1108.4,896.3h0M1112.5,896.8h0M1116.6,897.2h0M1120.7,897.6h0M1124.8,898.1h0M1128.9,898.5h0M1133.0,898.9h0M1137.1,899.3h0M1141.2,899.7h0M1145.3,900.1h0M1149.4,900.5h0M1153.5,900.9h0M1157.6,901.3h0M1161.7,901.7h0M1165.8,902.1h0M1170.0,902.4h0M1174.1,902.8h0M1178.2,903.2h0M1182.3,903.6h0M1186.4,903.9h0M1190.5,904.3h0M1194.6,904.7h0M1198.7,905.0h0M1202.8,905.4h0M1206.9,905.8h0M1211.0,906.2h0M1215.1,906.5h0M1219.2,906.9h0M1223.3,907.3h0M1227.4,907.6h0M1231.5,908.0h0M1235.6,908.4h0M1239.7,908.8h0M1243.8,909.1h0M1247.9,909.4h0M1252.0,909.8h0M1256.1,910.1h0M1260.2,910.4h0M1264.3,910.8h0M1268.4,911.1h0M1272.6,911.4h0M1276.7,911.8h0M1280.8,912.1h0M1284.9,912.4h0M1289.0,912.7h0M1293.1,913.1h0M1297.2,913.4h0M1301.3,913.7h0M1305.4,914.0h0M1309.5,914.3h0M1313.6,914.6h0M1317.7,914.9h0M1321.8,915.3h0M1325.9,915.7h0M1330.0,916.2h0M1334.1,916.7h0M1338.2,917.1h0M1342.3,917.6h0M1346.4,918.1h0M1350.5,918.5h0M1354.6,919.0h0M1358.7,919.4h0M1362.8,919.9h0M1366.9,920.4h0M1371.0,920.9h0M1375.2,921.4h0M1379.3,921.9h0M1383.4,922.4h0M1387.5,922.9h0M1391.6,923.4h0M1395.7,923.9h0M1399.8,924.4h0M1403.9,924.9h0M1408.0,925.9h0M1412.1,926.9h0M1416.2,927.9h0M1420.3,928.9h0M1424.4,929.9h0M1428.5,931.0h0M1432.6,932.0h0M1436.7,933.1h0M1440.8,933.1h0M1444.9,933.1h0M1449.0,933.1h0M1453.1,933.1h0M1457.2,933.1h0M1461.3,933.1h0M1465.4,933.1h0M1469.5,933.1h0M1473.6,933.1h0M1477.8,933.1h0M1481.9,933.1h0M1486.0,933.1h0M1490.1,933.1h0M1494.2,933.1h0M1498.3,933.1h0M1502.4,933.1h0M1506.5,933.1h0M1510.6,933.1h0M1514.7,933.1h0M1518.8,933.1h0M1522.9,933.1h0M1527.0,933.1h0M1531.1,933.1h0M1535.2,933.1h0" fill="none" stroke="#108010" stroke-width="4.0" stroke-linecap="round"/><path d="M501.0,747.3 L870.4,747.3 L890.9,748.6 L911.4,751.9 L931.9,759.4 L952.4,772.4 L973.0,791.0 L993.5,815.7 L1014.0,831.8 L1034.5,840.4 L1055.0,849.5 L1075.6,857.5 L1116.6,868.4 L1157.6,873.5 L1198.7,881.6 L1239.7,891.5 L1280.8,901.3 L1321.8,911.2 L1362.8,922.1 L1383.4,928.5 L1403.9,932.5 L1412.1,933.1 L1527.0,933.1" fill="none" stroke="#8b4545" stroke-width="1"/><path d="M501.0,747.3h0M505.1,747.3h0M509.2,747.3h0M513.3,747.3h0M517.4,747.3h0M521.5,747.3h0M525.6,747.3h0M529.7,747.3h0M533.8,747.3h0M537.9,747.3h0M542.0,747.3h0M546.1,747.3h0M550.2,747.3h0M554.4,747.3h0M558.5,747.3h0M562.6,747.3h0M566.7,747.3h0M570.8,747.3h0M574.9,747.3h0M579.0,747.3h0M583.1,747.3h0M587.2,747.3h0M591.3,747.3h0M595.4,747.3h0M599.5,747.3h0M603.6,747.3h0M607.7,747.3h0M611.8,747.3h0M615.9,747.3h0M620.0,747.3h0M624.1,747.3h0M628.2,747.3h0M632.3,747.3h0M636.4,747.3h0M640.5,747.3h0M644.6,747.3h0M648.7,747.3h0M652.8,747.3h0M657.0,747.3h0M661.1,747.3h0M665.2,747.3h0M669.3,747.3h0M673.4,747.3h0M677.5,747.3h0M681.6,747.3h0M685.7,747.3h0M689.8,747.3h0M693.9,747.3h0M698.0,747.3h0M702.1,747.3h0M706.2,747.3h0M710.3,747.3h0M714.4,747.3h0M718.5,747.3h0M722.6,747.3h0M726.7,747.3h0M730.8,747.3h0M734.9,747.3h0M739.0,747.3h0M743.1,747.3h0M747.2,747.3h0M751.3,747.3h0M755.4,747.3h0M759.6,747.3h0M763.7,747.3h0M767.8,747.3h0M771.9,747.3h0M776.0,747.3h0M780.1,747.3h0M784.2,747.3h0M788.3,747.3h0M792.4,747.3h0M796.5,747.3h0M800.6,747.3h0M804.7,747.3h0M808.8,747.3h0M812.9,747.3h0M817.0,747.3h0M821.1,747.3h0M825.2,747.3h0M829.3,747.3h0M833.4,747.3h0M837.5,747.3h0M841.6,747.3h0M845.7,747.3h0M849.8,747.3h0M853.9,747.3h0M858.0,747.3h0M862.2,747.3h0M866.3,747.3h0M870.4,747.3h0M874.5,747.6h0M878.6,747.8h0M882.7,748.1h0M886.8,748.3h0M890.9,748.6h0M895.0,749.3h0M899.1,749.9h0M903.2,750.6h0M907.3,751.3h0M911.4,751.9h0M915.5,753.4h0M919.6,754.9h0M923.7,756.4h0M927.8,757.9h0M931.9,759.4h0M936.0,762.0h0M940.1,764.6h0M944.2,767.2h0M948.3,769.8h0M952.4,772.4h0M956.5,776.1h0M960.6,779.8h0M964.8,783.5h0M968.9,787.2h0M973.0,791.0h0M977.1,795.3h0M981.2,799.7h0M985.3,804.1h0M989.4,808.5h0M993.5,812.9h0M997.6,815.6h0M1001.7,818.2h0M1005.8,820.9h0M1009.9,823.6h0M1014.0,826.3h0M1018.1,828.0h0M1022.2,829.7h0M1026.3,831.4h0M1030.4,833.1h0M1034.5,834.8h0M1038.6,836.6h0M1042.7,838.5h0M1046.8,840.3h0M1050.9,842.1h0M1055.0,843.9h0M1059.1,845.5h0M1063.2,847.1h0M1067.4,848.7h0M1071.5,850.3h0M1075.6,851.9h0M1079.7,853.0h0M1083.8,854.1h0M1087.9,855.2h0M1092.0,856.3h0M1096.1,857.4h0M1100.2,858.5h0M1104.3,859.6h0M1108.4,860.7h0M1112.5,861.8h0M1116.6,862.9h0M1120.7,863.6h0M1124.8,864.4h0M1128.9,865.2h0M1133.0,866.0h0M1137.1,866.8h0M1141.2,867.5h0M1145.3,868.3h0M1149.4,869.1h0M1153.5,869.9h0M1157.6,870.7h0M1161.7,871.8h0M1165.8,872.9h0M1170.0,874.0h0M1174.1,875.1h0M1178.2,876.2h0M1182.3,877.2h0M1186.4,878.3h0M1190.5,879.4h0M1194.6,880.5h0M1198.7,881.6h0M1202.8,882.6h0M1206.9,883.6h0M1211.0,884.6h0M1215.1,885.6h0M1219.2,886.6h0M1223.3,887.5h0M1227.4,888.5h0M1231.5,889.5h0M1235.6,890.5h0M1239.7,891.5h0M1243.8,892.5h0M1247.9,893.5h0M1252.0,894.4h0M1256.1,895.4h0M1260.2,896.4h0M1264.3,897.4h0M1268.4,898.4h0M1272.6,899.4h0M1276.7,900.3h0M1280.8,901.3h0M1284.9,902.3h0M1289.0,903.3h0M1293.1,904.3h0M1297.2,905.3h0M1301.3,906.3h0M1305.4,907.2h0M1309.5,908.2h0M1313.6,909.2h0M1317.7,910.2h0M1321.8,911.2h0M1325.9,912.3h0M1330.0,913.4h0M1334.1,914.5h0M1338.2,915.6h0M1342.3,916.7h0M1346.4,917.8h0M1350.5,918.8h0M1354.6,919.9h0M1358.7,921.0h0M1362.8,922.1h0M1366.9,923.4h0M1371.0,924.7h0M1375.2,925.9h0M1379.3,927.2h0M1383.4,928.5h0M1387.5,929.3h0M1391.6,930.1h0M1395.7,930.9h0M1399.8,931.7h0M1403.9,932.5h0M1408.0,932.8h0M1412.1,933.1h0M1416.2,933.1h0M1420.3,933.1h0M1424.4,933.1h0M1428.5,933.1h0M1432.6,933.1h0M1436.7,933.1h0M1440.8,933.1h0M1444.9,933.1h0M1449.0,933.1h0M1453.1,933.1h0M1457.2,933.1h0M1461.3,933.1h0M1465.4,933.1h0M1469.5,933.1h0M1473.6,933.1h0M1477.8,933.1h0M1481.9,933.1h0M1486.0,933.1h0M1490.1,933.1h0M1494.2,933.1h0M1498.3,933.1h0M1502.4,933.1h0M1506.5,933.1h0M1510.6,933.1h0M1514.7,933.1h0M1518.8,933.1h0M1522.9,933.1h0M1527.0,933.1h0" fill="none" stroke="#8b4545" stroke-width="4.0" stroke-linecap="round"/><path d="M1034.5,748V934" stroke="#0000ff" stroke-width="1.2"/><rect x="1614" y="770" width="135" height="53" fill="#000"/><rect x="1611.5" y="767.5" width="135" height="53" fill="#fff" stroke="#000" stroke-width="1.4"/><rect x="1616.5" y="771.5" width="11" height="11" fill="#fff" stroke="#8a8a8a"/><path d="M1619,776.5L1621.5,779.5L1626,773.5" stroke="#000" stroke-width="2" fill="none"/><circle cx="1635" cy="776.5" r="1.8" fill="#1f4e79"/><text x="1645" y="779.5" letter-spacing="0.3">ptv46</text><rect x="1616.5" y="788.5" width="11" height="11" fill="#fff" stroke="#8a8a8a"/><path d="M1619,793.5L1621.5,796.5L1626,790.5" stroke="#000" stroke-width="2" fill="none"/><circle cx="1635" cy="793.5" r="1.8" fill="#108010"/><text x="1645" y="796.5" letter-spacing="0.3">veissie</text><rect x="1616.5" y="805.5" width="11" height="11" fill="#fff" stroke="#8a8a8a"/><path d="M1619,810.5L1621.5,813.5L1626,807.5" stroke="#000" stroke-width="2" fill="none"/><circle cx="1635" cy="810.5" r="1.8" fill="#8b4545"/><text x="1645" y="813.5" letter-spacing="0.3">Rectum sub PTV</text><circle cx="1635" cy="833" r="2" fill="#000"/><text x="1645" y="837" letter-spacing="0.3">Measured</text><path d="M1633,846H1639" stroke="#000" stroke-width="1.2"/><text x="1645" y="850" letter-spacing="0.3">Planned</text></svg>
<div class="a" style="left:1798px;top:94px;width:122px;height:892px;background:#fbfbfb"></div>
<div class="a" style="left:1799px;top:97px;width:121px;height:730px;background:linear-gradient(90deg,#f9f9f9,#f8f8f8 80%,#f0f0f0);border-radius:0 0 6px 6px"></div>
<div class="a" style="left:1800px;top:99px;width:118px;height:1px;background:#cfcfcf"></div><div class="t ui" style="left:1854px;top:101px;transform:translateX(-50%)">Measured Data</div><div class="a" style="left:1908px;top:106px;border:3px solid transparent;border-top:4px solid #000;border-bottom:none;width:0;height:0"></div>
<div class="a" style="left:1810px;top:123px;width:11px;height:65px;background:linear-gradient(#ff0000 0%,#ff4000 14%,#ff9000 25%,#ffff00 33%,#80c000 41%,#008000 49%,#009060 55%,#00b0b0 59%,#0000ff 65%,#3000c0 73%,#500090 83%,#a010e0 91%,#f070f0 100%)"></div>
<div class="t ui" style="left:1824px;top:124px;letter-spacing:-0.5px">3,0000 Gy</div><div class="t ui" style="left:1824px;top:175px;letter-spacing:-0.5px">0,0200 Gy</div>
<div class="a" style="left:1802px;top:193px;width:115px;height:22px;background:#fff"></div><div class="t ui" style="left:1806px;top:197px">Abs. dose</div><div class="a" style="left:1908px;top:202px;border:3px solid transparent;border-top:4px solid #000;border-bottom:none;width:0;height:0"></div>
<div class="a" style="left:1800px;top:217px;width:118px;height:1px;background:#cfcfcf"></div><div class="t ui" style="left:1854px;top:219px;transform:translateX(-50%)">Isodoses</div><div class="a" style="left:1908px;top:224px;border:3px solid transparent;border-top:4px solid #000;border-bottom:none;width:0;height:0"></div>
<div class="rp" style="right:8px;top:241px">10 %</div>
<div class="rp" style="right:8px;top:263px">20 %</div>
<div class="rp" style="right:8px;top:285px">30 %</div>
<div class="rp" style="right:8px;top:307px">40 %</div>
<div class="rp" style="right:8px;top:329px">50 %</div>
<div class="rp" style="right:8px;top:351px">60 %</div>
<div class="rp" style="right:8px;top:373px">70 %</div>
<div class="rp" style="right:8px;top:395px">80 %</div>
<div class="rp" style="right:8px;top:417px">90 %</div>
<div class="a" style="left:1800px;top:437px;width:118px;height:1px;background:#cfcfcf"></div><div class="t ui" style="left:1854px;top:439px;transform:translateX(-50%)">Structures</div><div class="a" style="left:1908px;top:444px;border:3px solid transparent;border-top:4px solid #000;border-bottom:none;width:0;height:0"></div>
<div class="a" style="left:1799px;top:458px;width:119px;height:20px;border:1px solid #2a7ad8;background:#fbfbfb"></div>
<svg class="a" style="left:1803px;top:462px" width="11" height="11" viewBox="0 0 11 11"><circle cx="5.5" cy="5.5" r="4.2" fill="none" stroke="#1f4e79" stroke-width="1.4"/><circle cx="5.5" cy="5.5" r="1.5" fill="#1f4e79"/></svg>
<div class="t ui" style="left:1820px;top:461px">ptv46</div>
<div class="rp" id="r1" style="right:8px;top:484px">ptv54</div>
<svg class="a" style="left:1864px;top:485px" width="11" height="11" viewBox="0 0 11 11"><circle cx="5.5" cy="5.5" r="4.2" fill="none" stroke="#a0a0a0" stroke-width="1.4"/><circle cx="5.5" cy="5.5" r="1.5" fill="#a0a0a0"/></svg>
<div class="rp" id="r2" style="right:8px;top:507px">ptv74</div>
<svg class="a" style="left:1864px;top:508px" width="11" height="11" viewBox="0 0 11 11"><circle cx="5.5" cy="5.5" r="4.2" fill="none" stroke="#a0a0a0" stroke-width="1.4"/><circle cx="5.5" cy="5.5" r="1.5" fill="#a0a0a0"/></svg>
<div class="rp" id="r3" style="right:8px;top:530px">cfemdt</div>
<svg class="a" style="left:1856px;top:531px" width="11" height="11" viewBox="0 0 11 11"><path d="M5.5,2L9,9H2Z" fill="none" stroke="#a0a0a0" stroke-width="1.2"/></svg>
<div class="rp" id="r4" style="right:8px;top:553px">cfemurG</div>
<svg class="a" style="left:1848px;top:554px" width="11" height="11" viewBox="0 0 11 11"><path d="M5.5,2L9,9H2Z" fill="none" stroke="#a0a0a0" stroke-width="1.2"/></svg>
<div class="rp" id="r5" style="right:8px;top:576px">rectum</div>
<svg class="a" style="left:1856px;top:577px" width="11" height="11" viewBox="0 0 11 11"><path d="M5.5,2L9,9H2Z" fill="none" stroke="#a0a0a0" stroke-width="1.2"/></svg>
<div class="a" style="left:1799px;top:596px;width:119px;height:20px;border:1px solid #2a7ad8;background:#fbfbfb"></div>
<svg class="a" style="left:1803px;top:600px" width="11" height="11" viewBox="0 0 11 11"><path d="M5.5,2L9,9H2Z" fill="none" stroke="#2a9a2a" stroke-width="1.2"/></svg>
<div class="t ui" style="left:1820px;top:599px">veissie</div>
<div class="rp" id="r7" style="right:8px;top:622px">BODY</div>
<div class="rp" id="r8" style="right:8px;top:645px">PTV Opti1</div>
<div class="rp" id="r9" style="right:8px;top:668px">PTV Opti2</div>
<div class="rp" id="r10" style="right:8px;top:691px">PTV Opti3</div>
<div class="a" style="left:1799px;top:711px;width:119px;height:20px;border:1px solid #2a7ad8;background:#fbfbfb"></div>
<div class="a" style="left:1803px;top:718px;width:11px;height:4px;background:#8b4545"></div>
<div class="t ui" style="left:1820px;top:714px">Rectum sub PTV</div>
<div class="rp" id="r12" style="right:8px;top:737px">Rectum_inter PTV</div>
<div class="rp" id="r13" style="right:8px;top:760px">ctv46</div>
<div class="rp" id="r14" style="right:8px;top:783px">ctv54</div>
<div class="rp" id="r15" style="right:8px;top:806px">ctv74</div>
<div class="a" style="left:0;top:986px;width:1920px;height:50px;background:linear-gradient(90deg,#f0f0f0,#f1f1f1 20%,#fcfcfc)"></div>
<div class="a" style="left:3px;top:987px;width:470px;height:24px;background:linear-gradient(#f8f8f8,#f0f0f0);border-radius:3px"></div>
<div class="a" style="left:3px;top:1012px;width:351px;height:24px;background:linear-gradient(#fbfbfb,#f4f4f4);border-radius:3px"></div>
<div class="a" style="left:6px;top:992px;width:2px;height:2px;background:#a0a0a0"></div><div class="a" style="left:6px;top:996px;width:2px;height:2px;background:#a0a0a0"></div><div class="a" style="left:6px;top:1000px;width:2px;height:2px;background:#a0a0a0"></div><div class="a" style="left:6px;top:1004px;width:2px;height:2px;background:#a0a0a0"></div>
<div class="a" style="left:6px;top:1017px;width:2px;height:2px;background:#a0a0a0"></div><div class="a" style="left:6px;top:1021px;width:2px;height:2px;background:#a0a0a0"></div><div class="a" style="left:6px;top:1025px;width:2px;height:2px;background:#a0a0a0"></div><div class="a" style="left:6px;top:1029px;width:2px;height:2px;background:#a0a0a0"></div>
<svg class="a" style="left:13px;top:993px" width="12" height="12" viewBox="0 0 14 14"><ellipse cx="7" cy="4.6" rx="3.6" ry="4.2" fill="#00007a"/><path d="M0 13.5Q0 10 4.5 9.2L7 10.5L9.5 9.2Q14 10 14 13.5Z" fill="#00007a"/><rect x="0" y="12" width="14" height="1.6" fill="#00007a"/></svg>
<div class="t ui" style="left:31px;top:992px">Administrator</div>
<div class="sep" style="left:115px;top:992px;height:15px"></div>
<svg class="a" style="left:121px;top:992px" width="17" height="13" viewBox="0 0 17 13"><path d="M0 2L3 0.5" stroke="#a0a0a0"/><rect x="3" y="1" width="12" height="10" fill="#c8c8c8" stroke="#a0a0a0" stroke-width="0.8"/><rect x="6" y="1" width="3" height="10" fill="#909090"/></svg>
<div class="sep" style="left:145px;top:992px;height:15px"></div>
<svg class="a" style="left:152px;top:990px" width="14" height="18" viewBox="0 0 14 18"><path d="M6 2.5Q6 1 7.5 1Q9 1 9 2.5V10Q11 11.2 11 13.3Q11 16.5 7.5 16.5Q4 16.5 4 13.3Q4 11.2 6 10Z" fill="#f8d0d0" stroke="#c03030" stroke-width="1"/><circle cx="7.5" cy="13.3" r="2" fill="#e03030"/><path d="M7.5 6V12" stroke="#e03030" stroke-width="1.4"/><path d="M1 3H4M1 5.5H3.5M1 8H4" stroke="#505050" stroke-width="0.8"/></svg>
<div class="t ui" style="left:172px;top:992px">--</div><div class="a" style="left:188px;top:997px;border:3px solid transparent;border-top:4px solid #000;border-bottom:none"></div>
<div class="sep" style="left:205px;top:992px;height:15px"></div>
<svg class="a" style="left:212px;top:991px" width="16" height="16" viewBox="0 0 16 16"><rect x="0.5" y="0.5" width="15" height="15" fill="#e8ecf4" stroke="#7080a0" stroke-width="1" stroke-dasharray="1 1"/><rect x="1" y="1" width="14" height="3" fill="#3a6ad0"/><text x="8" y="14" font-family="Liberation Serif" font-weight="bold" font-size="11" text-anchor="middle" fill="#202840">31</text></svg>
<div class="t ui" style="left:232px;top:992px">--</div><div class="a" style="left:248px;top:997px;border:3px solid transparent;border-top:4px solid #000;border-bottom:none"></div>
<svg class="a" style="left:264px;top:992px" width="16" height="15" viewBox="0 0 16 15"><path d="M0.5 2.5H14.5V6H11.5V14H7.5V8Q7.5 6 5 6H0.5Z" fill="#3a7ec0" stroke="#1a4a88" stroke-width="0.8"/><path d="M1 3H14" stroke="#a8d0f0" stroke-width="1"/><path d="M12.5 6V14" stroke="#c8c8c8" stroke-width="1.6"/></svg>
<div class="t ui" style="left:284px;top:992px">--</div><div class="a" style="left:300px;top:997px;border:3px solid transparent;border-top:4px solid #000;border-bottom:none"></div>
<div class="sep" style="left:317px;top:992px;height:15px"></div>
<div class="t ui" style="left:327px;top:992px;letter-spacing:-0.5px">100% = 2,3708 Gy</div>
<div class="sep" style="left:430px;top:992px;height:15px"></div>
<svg class="a" style="left:439px;top:990px" width="22" height="18" viewBox="0 0 22 18"><path d="M2 2H8M5 2V15M2 15H8M1 6.5H9" stroke="#000" stroke-width="1.2" fill="none"/><path d="M9.5 7.5L13.5 11.5M13.5 7.5L9.5 11.5M11.5 7V12M9 9.5H14" stroke="#404040" stroke-width="0.8"/><path d="M16 8.5H21L18.5 11.5Z" fill="#000"/></svg>
<div class="sep" style="left:468px;top:992px;height:15px"></div>
<div class="a" style="left:473px;top:989px;width:1px;height:20px;background:#c8c8c8"></div>
<div class="t ui" style="left:15px;top:1017px;letter-spacing:-0.45px">1,3000 Gy :&nbsp; ptv..100,0/100,0%&nbsp; vei..25,7/26,6%&nbsp; Rec..52,9/50,0%</div>
<div class="a" style="left:353px;top:1014px;width:1px;height:22px;background:#c8c8c8"></div>
</body></html>
